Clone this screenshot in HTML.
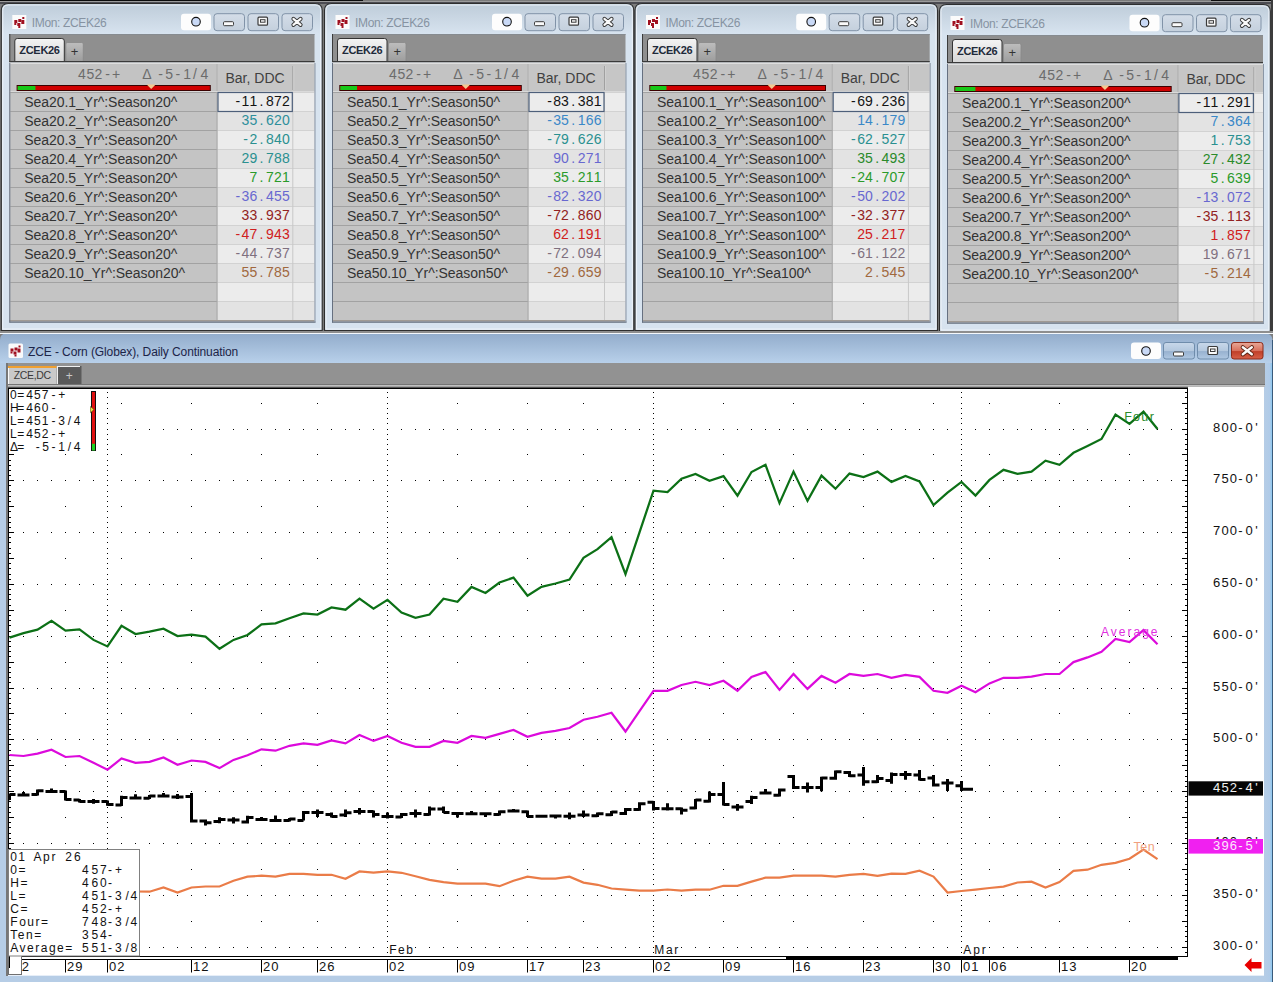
<!DOCTYPE html><html><head><meta charset="utf-8"><style>html,body{margin:0;padding:0;background:#5f5f5f;overflow:hidden;width:1273px;height:982px}svg{display:block}</style></head><body><svg width="1273" height="982" viewBox="0 0 1273 982" font-family='"Liberation Sans", sans-serif' shape-rendering="auto">
<defs>
<linearGradient id="glass" gradientUnits="userSpaceOnUse" x1="0" y1="5" x2="0" y2="34">
 <stop offset="0" stop-color="#bfcdda"/><stop offset="1" stop-color="#d7e3ef"/>
</linearGradient>
<linearGradient id="strip" x1="0" y1="0" x2="0" y2="1">
 <stop offset="0" stop-color="#7e7e7e"/><stop offset="1" stop-color="#999999"/>
</linearGradient>
<linearGradient id="acttab" x1="0" y1="0" x2="0" y2="1">
 <stop offset="0" stop-color="#f4f4f4"/><stop offset="1" stop-color="#d6d6d6"/>
</linearGradient>
<linearGradient id="plustab" x1="0" y1="0" x2="0" y2="1">
 <stop offset="0" stop-color="#bdbdbd"/><stop offset="1" stop-color="#9c9c9c"/>
</linearGradient>
<linearGradient id="btn" x1="0" y1="0" x2="0" y2="1">
 <stop offset="0" stop-color="#d4dde8"/><stop offset="1" stop-color="#c4d0dd"/>
</linearGradient>
<linearGradient id="ctitle" gradientUnits="userSpaceOnUse" x1="0" y1="334" x2="0" y2="363">
 <stop offset="0" stop-color="#93adcc"/><stop offset="1" stop-color="#b8d0ea"/>
</linearGradient>
<linearGradient id="cbtn" x1="0" y1="0" x2="0" y2="1">
 <stop offset="0" stop-color="#c8d8ea"/><stop offset="0.5" stop-color="#b4c8de"/><stop offset="0.55" stop-color="#98b2d0"/><stop offset="1" stop-color="#b0c8e2"/>
</linearGradient>
<linearGradient id="cclose" x1="0" y1="0" x2="0" y2="1">
 <stop offset="0" stop-color="#e8a898"/><stop offset="0.5" stop-color="#d8705c"/><stop offset="0.55" stop-color="#c0402a"/><stop offset="1" stop-color="#d86048"/>
</linearGradient>
<linearGradient id="frameR" x1="0" y1="0" x2="1" y2="0">
 <stop offset="0" stop-color="#b6cde6"/><stop offset="0.7" stop-color="#b0cbe8"/><stop offset="1" stop-color="#8ec8f0"/>
</linearGradient>
</defs>
<rect x="0" y="0" width="1273" height="982" fill="#7e7e7e"/>
<rect x="0" y="0" width="1273" height="1" fill="#0c0c0c"/>
<rect x="363" y="0" width="848" height="1" fill="#7a7a7a"/>
<rect x="0" y="1" width="1273" height="1" fill="#9a9a9a"/>
<rect x="0" y="2" width="1273" height="2" fill="#4c4c52"/>
<rect x="1271" y="0" width="2" height="333" fill="#3c3c3c"/>
<path d="M1.3 330.5 L1.3 10.5 Q1.3 3.5 8.3 3.5 L315.2 3.5 Q322.2 3.5 322.2 10.5 L322.2 330.5 Z" fill="url(#glass)" stroke="#2e2e2e" stroke-width="1.15"/>
<path d="M2.8 329.0 L2.8 10.5 Q2.8 5.0 8.3 5.0 L315.2 5.0 Q320.7 5.0 320.7 10.5 L320.7 329.0 Z" fill="none" stroke="#f4f8fc" stroke-width="1" opacity="0.8"/>
<rect x="12.3" y="15.0" width="14" height="14" fill="#fbfbfb"/>
<rect x="14.3" y="20.0" width="3" height="3" fill="#a01020"/>
<rect x="18.3" y="19.0" width="3" height="3" fill="#a01020"/>
<rect x="22.3" y="17.0" width="2" height="2" fill="#a01020"/>
<rect x="21.3" y="20.0" width="3" height="4" fill="#a01020"/>
<rect x="17.3" y="23.0" width="3" height="3" fill="#a01020"/>
<rect x="14.3" y="23.0" width="2" height="2" fill="#a01020"/>
<rect x="18.3" y="26.0" width="2" height="2" fill="#a01020"/>
<text x="31.8" y="26.7" font-size="12" fill="#8693a2" letter-spacing="-0.35" text-anchor="start">IMon: ZCEK26</text>
<rect x="181.0" y="13.7" width="30" height="16.5" rx="3" fill="#fdfdfd"/>
<circle cx="196.0" cy="21.7" r="4.3" fill="#c9d9f6" stroke="#111" stroke-width="1.1"/>
<rect x="214.0" y="13.7" width="30.5" height="17" rx="3" fill="url(#btn)" stroke="#8193a8" stroke-width="1"/>
<rect x="248.0" y="13.7" width="30.5" height="17" rx="3" fill="url(#btn)" stroke="#8193a8" stroke-width="1"/>
<rect x="282.0" y="13.7" width="30.5" height="17" rx="3" fill="url(#btn)" stroke="#8193a8" stroke-width="1"/>
<rect x="223.5" y="21.7" width="10" height="4" rx="1" fill="#fafafa" stroke="#3a3a3a" stroke-width="1"/>
<rect x="258.0" y="17.2" width="9.5" height="8" rx="1" fill="#fafafa" stroke="#3a3a3a" stroke-width="1.2"/>
<rect x="260.5" y="19.7" width="4.5" height="2.5" fill="none" stroke="#3a3a3a" stroke-width="1"/>
<path d="M293.4 18.9 L300.6 24.9 M300.6 18.9 L293.4 24.9" stroke="#3a3a3a" stroke-width="4" stroke-linecap="round"/>
<path d="M293.4 18.9 L300.6 24.9 M300.6 18.9 L293.4 24.9" stroke="#fafafa" stroke-width="2.1" stroke-linecap="round"/>
<rect x="9.3" y="34" width="305.2" height="28" fill="#8f8f8f"/>
<rect x="9.3" y="34" width="305.2" height="1" fill="#868b90"/>
<rect x="9.3" y="34" width="1" height="28" fill="#3c3c3c"/>
<path d="M14.8 62 L14.8 41 Q14.8 38.5 17.3 38.5 L61.8 38.5 Q64.3 38.5 64.3 41 L64.3 62" fill="url(#acttab)" stroke="#333" stroke-width="1"/>
<text x="19.3" y="54" font-size="11" fill="#1f2a3a" letter-spacing="-0.3" font-weight="bold" text-anchor="start">ZCEK26</text>
<path d="M65.8 62 L65.8 44 Q65.8 42.5 67.3 42.5 L81.8 42.5 Q83.3 42.5 83.3 44 L83.3 62" fill="url(#plustab)" stroke="#888" stroke-width="0.8"/>
<text x="74.6" y="56" font-size="13" fill="#333" text-anchor="middle">+</text>
<rect x="9.3" y="61" width="305.2" height="1.5" fill="#3a3a3a"/>
<rect x="9.3" y="63" width="305.2" height="259" fill="#c4c4c4"/>
<rect x="10.3" y="63" width="207.2" height="29" fill="#c3c3c3"/>
<rect x="217.5" y="63" width="97.0" height="29" fill="#c6c6c6"/>
<rect x="9.3" y="62.5" width="305.2" height="1.5" fill="#dedede"/>
<rect x="216.5" y="64" width="1" height="27" fill="#b0b0b0"/>
<rect x="292.3" y="66" width="1" height="24" fill="#a0a0a0"/>
<rect x="293.3" y="66" width="1" height="24" fill="#d0d0d0"/>
<text x="77.9 86.4 94.5 105.3 112.1" y="78.8" font-size="14" fill="#6b6b6b">452-+</text>
<text x="142.3 152.5 158.3 165.3 175.4 183.2 193.0 200.4" y="78.8" font-size="14" fill="#6b6b6b">Δ -5-1/4</text>
<text x="225.5" y="82.6" font-size="14" fill="#404040" text-anchor="start">Bar, DDC</text>
<rect x="16.6" y="85" width="194.20000000000002" height="6" fill="#3a0000"/>
<rect x="17.6" y="86" width="192.20000000000002" height="4" fill="#d00000"/>
<rect x="17.6" y="86" width="17.837400000000002" height="4" fill="#18c818"/>
<path d="M146.6806 84.5 L155.6806 84.5 L151.1806 89 Z" fill="#f4c890"/>
<rect x="9.3" y="91" width="305.2" height="1" fill="#dadada"/>
<rect x="10.3" y="92" width="207.2" height="19" fill="#c4c4c4"/>
<rect x="217.5" y="92" width="97.0" height="19" fill="#ececec"/>
<rect x="10.3" y="92" width="207.2" height="1" fill="#a2a2a2"/>
<rect x="217.5" y="92" width="97.0" height="1" fill="#d2d2d2"/>
<text x="24.3" y="106.7" font-size="14" fill="#333333" letter-spacing="-0.05" text-anchor="start">Sea20.1_Yr^:Season20^</text>
<text x="235.5 241.6 249.4 259.6 266.0 274.0 282.0" y="106" font-size="14" fill="#141414">-11.872</text>
<rect x="10.3" y="111" width="207.2" height="19" fill="#c4c4c4"/>
<rect x="217.5" y="111" width="97.0" height="19" fill="#e3e3e3"/>
<rect x="10.3" y="111" width="207.2" height="1" fill="#a2a2a2"/>
<rect x="217.5" y="111" width="97.0" height="1" fill="#d2d2d2"/>
<text x="24.3" y="125.7" font-size="14" fill="#333333" letter-spacing="-0.05" text-anchor="start">Sea20.2_Yr^:Season20^</text>
<text x="241.6 249.4 259.6 266.0 274.0 282.0" y="125" font-size="14" fill="#2e8f9c">35.620</text>
<rect x="10.3" y="130" width="207.2" height="19" fill="#c4c4c4"/>
<rect x="217.5" y="130" width="97.0" height="19" fill="#ececec"/>
<rect x="10.3" y="130" width="207.2" height="1" fill="#a2a2a2"/>
<rect x="217.5" y="130" width="97.0" height="1" fill="#d2d2d2"/>
<text x="24.3" y="144.7" font-size="14" fill="#333333" letter-spacing="-0.05" text-anchor="start">Sea20.3_Yr^:Season20^</text>
<text x="243.3 249.4 259.6 266.0 274.0 282.0" y="144" font-size="14" fill="#2a9090">-2.840</text>
<rect x="10.3" y="149" width="207.2" height="19" fill="#c4c4c4"/>
<rect x="217.5" y="149" width="97.0" height="19" fill="#e3e3e3"/>
<rect x="10.3" y="149" width="207.2" height="1" fill="#a2a2a2"/>
<rect x="217.5" y="149" width="97.0" height="1" fill="#d2d2d2"/>
<text x="24.3" y="163.7" font-size="14" fill="#333333" letter-spacing="-0.05" text-anchor="start">Sea20.4_Yr^:Season20^</text>
<text x="241.6 249.4 259.6 266.0 274.0 282.0" y="163" font-size="14" fill="#2a9090">29.788</text>
<rect x="10.3" y="168" width="207.2" height="19" fill="#c4c4c4"/>
<rect x="217.5" y="168" width="97.0" height="19" fill="#ececec"/>
<rect x="10.3" y="168" width="207.2" height="1" fill="#a2a2a2"/>
<rect x="217.5" y="168" width="97.0" height="1" fill="#d2d2d2"/>
<text x="24.3" y="182.7" font-size="14" fill="#333333" letter-spacing="-0.05" text-anchor="start">Sea20.5_Yr^:Season20^</text>
<text x="249.4 259.6 266.0 274.0 282.0" y="182" font-size="14" fill="#2a9a2a">7.721</text>
<rect x="10.3" y="187" width="207.2" height="19" fill="#c4c4c4"/>
<rect x="217.5" y="187" width="97.0" height="19" fill="#e3e3e3"/>
<rect x="10.3" y="187" width="207.2" height="1" fill="#a2a2a2"/>
<rect x="217.5" y="187" width="97.0" height="1" fill="#d2d2d2"/>
<text x="24.3" y="201.7" font-size="14" fill="#333333" letter-spacing="-0.05" text-anchor="start">Sea20.6_Yr^:Season20^</text>
<text x="235.5 241.6 249.4 259.6 266.0 274.0 282.0" y="201" font-size="14" fill="#6868d0">-36.455</text>
<rect x="10.3" y="206" width="207.2" height="19" fill="#c4c4c4"/>
<rect x="217.5" y="206" width="97.0" height="19" fill="#ececec"/>
<rect x="10.3" y="206" width="207.2" height="1" fill="#a2a2a2"/>
<rect x="217.5" y="206" width="97.0" height="1" fill="#d2d2d2"/>
<text x="24.3" y="220.7" font-size="14" fill="#333333" letter-spacing="-0.05" text-anchor="start">Sea20.7_Yr^:Season20^</text>
<text x="241.6 249.4 259.6 266.0 274.0 282.0" y="220" font-size="14" fill="#922222">33.937</text>
<rect x="10.3" y="225" width="207.2" height="19" fill="#c4c4c4"/>
<rect x="217.5" y="225" width="97.0" height="19" fill="#e3e3e3"/>
<rect x="10.3" y="225" width="207.2" height="1" fill="#a2a2a2"/>
<rect x="217.5" y="225" width="97.0" height="1" fill="#d2d2d2"/>
<text x="24.3" y="239.7" font-size="14" fill="#333333" letter-spacing="-0.05" text-anchor="start">Sea20.8_Yr^:Season20^</text>
<text x="235.5 241.6 249.4 259.6 266.0 274.0 282.0" y="239" font-size="14" fill="#d02020">-47.943</text>
<rect x="10.3" y="244" width="207.2" height="19" fill="#c4c4c4"/>
<rect x="217.5" y="244" width="97.0" height="19" fill="#ececec"/>
<rect x="10.3" y="244" width="207.2" height="1" fill="#a2a2a2"/>
<rect x="217.5" y="244" width="97.0" height="1" fill="#d2d2d2"/>
<text x="24.3" y="258.7" font-size="14" fill="#333333" letter-spacing="-0.05" text-anchor="start">Sea20.9_Yr^:Season20^</text>
<text x="235.5 241.6 249.4 259.6 266.0 274.0 282.0" y="258" font-size="14" fill="#7f707f">-44.737</text>
<rect x="10.3" y="263" width="207.2" height="19" fill="#c4c4c4"/>
<rect x="217.5" y="263" width="97.0" height="19" fill="#e3e3e3"/>
<rect x="10.3" y="263" width="207.2" height="1" fill="#a2a2a2"/>
<rect x="217.5" y="263" width="97.0" height="1" fill="#d2d2d2"/>
<text x="24.3" y="277.7" font-size="14" fill="#333333" letter-spacing="-0.05" text-anchor="start">Sea20.10_Yr^:Season20^</text>
<text x="241.6 249.4 259.6 266.0 274.0 282.0" y="277" font-size="14" fill="#a0683e">55.785</text>
<rect x="10.3" y="282" width="207.2" height="19" fill="#c4c4c4"/>
<rect x="217.5" y="282" width="97.0" height="19" fill="#ececec"/>
<rect x="10.3" y="282" width="207.2" height="1" fill="#a2a2a2"/>
<rect x="217.5" y="282" width="97.0" height="1" fill="#d2d2d2"/>
<rect x="10.3" y="301" width="207.2" height="19" fill="#c4c4c4"/>
<rect x="217.5" y="301" width="97.0" height="19" fill="#e3e3e3"/>
<rect x="10.3" y="301" width="207.2" height="1" fill="#a2a2a2"/>
<rect x="217.5" y="301" width="97.0" height="1" fill="#d2d2d2"/>
<rect x="292.3" y="92" width="1" height="228" fill="#c8c8c8"/>
<rect x="216.5" y="92" width="1" height="228" fill="#a8a8a8"/>
<rect x="218.0" y="92.5" width="74.30000000000001" height="19" fill="none" stroke="#4d5f7a" stroke-width="1.2"/>
<rect x="9.3" y="320" width="305.2" height="1" fill="#a09a94"/>
<rect x="9.3" y="321.5" width="306.2" height="1.2" fill="#5c6676"/>
<rect x="9.3" y="63" width="1" height="259.5" fill="#667080"/>
<rect x="314.5" y="63" width="1" height="259.5" fill="#8a96a6"/>
<path d="M324.5 330.5 L324.5 10.5 Q324.5 3.5 331.5 3.5 L626.8 3.5 Q633.8 3.5 633.8 10.5 L633.8 330.5 Z" fill="url(#glass)" stroke="#2e2e2e" stroke-width="1.15"/>
<path d="M326.0 329.0 L326.0 10.5 Q326.0 5.0 331.5 5.0 L626.8 5.0 Q632.3 5.0 632.3 10.5 L632.3 329.0 Z" fill="none" stroke="#f4f8fc" stroke-width="1" opacity="0.8"/>
<rect x="335.5" y="15.0" width="14" height="14" fill="#fbfbfb"/>
<rect x="337.5" y="20.0" width="3" height="3" fill="#a01020"/>
<rect x="341.5" y="19.0" width="3" height="3" fill="#a01020"/>
<rect x="345.5" y="17.0" width="2" height="2" fill="#a01020"/>
<rect x="344.5" y="20.0" width="3" height="4" fill="#a01020"/>
<rect x="340.5" y="23.0" width="3" height="3" fill="#a01020"/>
<rect x="337.5" y="23.0" width="2" height="2" fill="#a01020"/>
<rect x="341.5" y="26.0" width="2" height="2" fill="#a01020"/>
<text x="355.0" y="26.7" font-size="12" fill="#8693a2" letter-spacing="-0.35" text-anchor="start">IMon: ZCEK26</text>
<rect x="492.0" y="13.7" width="30" height="16.5" rx="3" fill="#fdfdfd"/>
<circle cx="507.0" cy="21.7" r="4.3" fill="#c9d9f6" stroke="#111" stroke-width="1.1"/>
<rect x="525.0" y="13.7" width="30.5" height="17" rx="3" fill="url(#btn)" stroke="#8193a8" stroke-width="1"/>
<rect x="559.0" y="13.7" width="30.5" height="17" rx="3" fill="url(#btn)" stroke="#8193a8" stroke-width="1"/>
<rect x="593.0" y="13.7" width="30.5" height="17" rx="3" fill="url(#btn)" stroke="#8193a8" stroke-width="1"/>
<rect x="534.5" y="21.7" width="10" height="4" rx="1" fill="#fafafa" stroke="#3a3a3a" stroke-width="1"/>
<rect x="569.0" y="17.2" width="9.5" height="8" rx="1" fill="#fafafa" stroke="#3a3a3a" stroke-width="1.2"/>
<rect x="571.5" y="19.7" width="4.5" height="2.5" fill="none" stroke="#3a3a3a" stroke-width="1"/>
<path d="M604.4 18.9 L611.6 24.9 M611.6 18.9 L604.4 24.9" stroke="#3a3a3a" stroke-width="4" stroke-linecap="round"/>
<path d="M604.4 18.9 L611.6 24.9 M611.6 18.9 L604.4 24.9" stroke="#fafafa" stroke-width="2.1" stroke-linecap="round"/>
<rect x="332" y="34" width="293.5" height="28" fill="#8f8f8f"/>
<rect x="332" y="34" width="293.5" height="1" fill="#868b90"/>
<rect x="332" y="34" width="1" height="28" fill="#3c3c3c"/>
<path d="M337.5 62 L337.5 41 Q337.5 38.5 340 38.5 L384.5 38.5 Q387 38.5 387 41 L387 62" fill="url(#acttab)" stroke="#333" stroke-width="1"/>
<text x="342" y="54" font-size="11" fill="#1f2a3a" letter-spacing="-0.3" font-weight="bold" text-anchor="start">ZCEK26</text>
<path d="M388.5 62 L388.5 44 Q388.5 42.5 390 42.5 L404.5 42.5 Q406 42.5 406 44 L406 62" fill="url(#plustab)" stroke="#888" stroke-width="0.8"/>
<text x="397.3" y="56" font-size="13" fill="#333" text-anchor="middle">+</text>
<rect x="332" y="61" width="293.5" height="1.5" fill="#3a3a3a"/>
<rect x="332" y="63" width="293.5" height="259" fill="#c4c4c4"/>
<rect x="333" y="63" width="195.5" height="29" fill="#c3c3c3"/>
<rect x="528.5" y="63" width="97.0" height="29" fill="#c6c6c6"/>
<rect x="332" y="62.5" width="293.5" height="1.5" fill="#dedede"/>
<rect x="527.5" y="64" width="1" height="27" fill="#b0b0b0"/>
<rect x="604" y="66" width="1" height="24" fill="#a0a0a0"/>
<rect x="605" y="66" width="1" height="24" fill="#d0d0d0"/>
<text x="388.9 397.4 405.5 416.3 423.1" y="78.8" font-size="14" fill="#6b6b6b">452-+</text>
<text x="453.3 463.5 469.3 476.3 486.4 494.2 504.0 511.4" y="78.8" font-size="14" fill="#6b6b6b">Δ -5-1/4</text>
<text x="536.5" y="82.6" font-size="14" fill="#404040" text-anchor="start">Bar, DDC</text>
<rect x="339.3" y="85" width="182.49999999999994" height="6" fill="#3a0000"/>
<rect x="340.3" y="86" width="180.49999999999994" height="4" fill="#d00000"/>
<rect x="340.3" y="86" width="16.702499999999993" height="4" fill="#18c818"/>
<path d="M461.2725 84.5 L470.2725 84.5 L465.7725 89 Z" fill="#f4c890"/>
<rect x="332" y="91" width="293.5" height="1" fill="#dadada"/>
<rect x="333" y="92" width="195.5" height="19" fill="#c4c4c4"/>
<rect x="528.5" y="92" width="97.0" height="19" fill="#ececec"/>
<rect x="333" y="92" width="195.5" height="1" fill="#a2a2a2"/>
<rect x="528.5" y="92" width="97.0" height="1" fill="#d2d2d2"/>
<text x="347" y="106.7" font-size="14" fill="#333333" letter-spacing="-0.05" text-anchor="start">Sea50.1_Yr^:Season50^</text>
<text x="547.2 553.3 561.1 571.3 577.7 585.7 593.7" y="106" font-size="14" fill="#141414">-83.381</text>
<rect x="333" y="111" width="195.5" height="19" fill="#c4c4c4"/>
<rect x="528.5" y="111" width="97.0" height="19" fill="#e3e3e3"/>
<rect x="333" y="111" width="195.5" height="1" fill="#a2a2a2"/>
<rect x="528.5" y="111" width="97.0" height="1" fill="#d2d2d2"/>
<text x="347" y="125.7" font-size="14" fill="#333333" letter-spacing="-0.05" text-anchor="start">Sea50.2_Yr^:Season50^</text>
<text x="547.2 553.3 561.1 571.3 577.7 585.7 593.7" y="125" font-size="14" fill="#3a88c8">-35.166</text>
<rect x="333" y="130" width="195.5" height="19" fill="#c4c4c4"/>
<rect x="528.5" y="130" width="97.0" height="19" fill="#ececec"/>
<rect x="333" y="130" width="195.5" height="1" fill="#a2a2a2"/>
<rect x="528.5" y="130" width="97.0" height="1" fill="#d2d2d2"/>
<text x="347" y="144.7" font-size="14" fill="#333333" letter-spacing="-0.05" text-anchor="start">Sea50.3_Yr^:Season50^</text>
<text x="547.2 553.3 561.1 571.3 577.7 585.7 593.7" y="144" font-size="14" fill="#2a9090">-79.626</text>
<rect x="333" y="149" width="195.5" height="19" fill="#c4c4c4"/>
<rect x="528.5" y="149" width="97.0" height="19" fill="#e3e3e3"/>
<rect x="333" y="149" width="195.5" height="1" fill="#a2a2a2"/>
<rect x="528.5" y="149" width="97.0" height="1" fill="#d2d2d2"/>
<text x="347" y="163.7" font-size="14" fill="#333333" letter-spacing="-0.05" text-anchor="start">Sea50.4_Yr^:Season50^</text>
<text x="553.3 561.1 571.3 577.7 585.7 593.7" y="163" font-size="14" fill="#6868d0">90.271</text>
<rect x="333" y="168" width="195.5" height="19" fill="#c4c4c4"/>
<rect x="528.5" y="168" width="97.0" height="19" fill="#ececec"/>
<rect x="333" y="168" width="195.5" height="1" fill="#a2a2a2"/>
<rect x="528.5" y="168" width="97.0" height="1" fill="#d2d2d2"/>
<text x="347" y="182.7" font-size="14" fill="#333333" letter-spacing="-0.05" text-anchor="start">Sea50.5_Yr^:Season50^</text>
<text x="553.3 561.1 571.3 577.7 585.7 593.7" y="182" font-size="14" fill="#2a9a2a">35.211</text>
<rect x="333" y="187" width="195.5" height="19" fill="#c4c4c4"/>
<rect x="528.5" y="187" width="97.0" height="19" fill="#e3e3e3"/>
<rect x="333" y="187" width="195.5" height="1" fill="#a2a2a2"/>
<rect x="528.5" y="187" width="97.0" height="1" fill="#d2d2d2"/>
<text x="347" y="201.7" font-size="14" fill="#333333" letter-spacing="-0.05" text-anchor="start">Sea50.6_Yr^:Season50^</text>
<text x="547.2 553.3 561.1 571.3 577.7 585.7 593.7" y="201" font-size="14" fill="#6868d0">-82.320</text>
<rect x="333" y="206" width="195.5" height="19" fill="#c4c4c4"/>
<rect x="528.5" y="206" width="97.0" height="19" fill="#ececec"/>
<rect x="333" y="206" width="195.5" height="1" fill="#a2a2a2"/>
<rect x="528.5" y="206" width="97.0" height="1" fill="#d2d2d2"/>
<text x="347" y="220.7" font-size="14" fill="#333333" letter-spacing="-0.05" text-anchor="start">Sea50.7_Yr^:Season50^</text>
<text x="547.2 553.3 561.1 571.3 577.7 585.7 593.7" y="220" font-size="14" fill="#922222">-72.860</text>
<rect x="333" y="225" width="195.5" height="19" fill="#c4c4c4"/>
<rect x="528.5" y="225" width="97.0" height="19" fill="#e3e3e3"/>
<rect x="333" y="225" width="195.5" height="1" fill="#a2a2a2"/>
<rect x="528.5" y="225" width="97.0" height="1" fill="#d2d2d2"/>
<text x="347" y="239.7" font-size="14" fill="#333333" letter-spacing="-0.05" text-anchor="start">Sea50.8_Yr^:Season50^</text>
<text x="553.3 561.1 571.3 577.7 585.7 593.7" y="239" font-size="14" fill="#d02020">62.191</text>
<rect x="333" y="244" width="195.5" height="19" fill="#c4c4c4"/>
<rect x="528.5" y="244" width="97.0" height="19" fill="#ececec"/>
<rect x="333" y="244" width="195.5" height="1" fill="#a2a2a2"/>
<rect x="528.5" y="244" width="97.0" height="1" fill="#d2d2d2"/>
<text x="347" y="258.7" font-size="14" fill="#333333" letter-spacing="-0.05" text-anchor="start">Sea50.9_Yr^:Season50^</text>
<text x="547.2 553.3 561.1 571.3 577.7 585.7 593.7" y="258" font-size="14" fill="#7f707f">-72.094</text>
<rect x="333" y="263" width="195.5" height="19" fill="#c4c4c4"/>
<rect x="528.5" y="263" width="97.0" height="19" fill="#e3e3e3"/>
<rect x="333" y="263" width="195.5" height="1" fill="#a2a2a2"/>
<rect x="528.5" y="263" width="97.0" height="1" fill="#d2d2d2"/>
<text x="347" y="277.7" font-size="14" fill="#333333" letter-spacing="-0.05" text-anchor="start">Sea50.10_Yr^:Season50^</text>
<text x="547.2 553.3 561.1 571.3 577.7 585.7 593.7" y="277" font-size="14" fill="#a0683e">-29.659</text>
<rect x="333" y="282" width="195.5" height="19" fill="#c4c4c4"/>
<rect x="528.5" y="282" width="97.0" height="19" fill="#ececec"/>
<rect x="333" y="282" width="195.5" height="1" fill="#a2a2a2"/>
<rect x="528.5" y="282" width="97.0" height="1" fill="#d2d2d2"/>
<rect x="333" y="301" width="195.5" height="19" fill="#c4c4c4"/>
<rect x="528.5" y="301" width="97.0" height="19" fill="#e3e3e3"/>
<rect x="333" y="301" width="195.5" height="1" fill="#a2a2a2"/>
<rect x="528.5" y="301" width="97.0" height="1" fill="#d2d2d2"/>
<rect x="604" y="92" width="1" height="228" fill="#c8c8c8"/>
<rect x="527.5" y="92" width="1" height="228" fill="#a8a8a8"/>
<rect x="529.0" y="92.5" width="75.0" height="19" fill="none" stroke="#4d5f7a" stroke-width="1.2"/>
<rect x="332" y="320" width="293.5" height="1" fill="#a09a94"/>
<rect x="332" y="321.5" width="294.5" height="1.2" fill="#5c6676"/>
<rect x="332" y="63" width="1" height="259.5" fill="#667080"/>
<rect x="625.5" y="63" width="1" height="259.5" fill="#8a96a6"/>
<path d="M635 330.5 L635 10.5 Q635 3.5 642 3.5 L930.5 3.5 Q937.5 3.5 937.5 10.5 L937.5 330.5 Z" fill="url(#glass)" stroke="#2e2e2e" stroke-width="1.15"/>
<path d="M636.5 329.0 L636.5 10.5 Q636.5 5.0 642 5.0 L930.5 5.0 Q936.0 5.0 936.0 10.5 L936.0 329.0 Z" fill="none" stroke="#f4f8fc" stroke-width="1" opacity="0.8"/>
<rect x="646" y="15.0" width="14" height="14" fill="#fbfbfb"/>
<rect x="648" y="20.0" width="3" height="3" fill="#a01020"/>
<rect x="652" y="19.0" width="3" height="3" fill="#a01020"/>
<rect x="656" y="17.0" width="2" height="2" fill="#a01020"/>
<rect x="655" y="20.0" width="3" height="4" fill="#a01020"/>
<rect x="651" y="23.0" width="3" height="3" fill="#a01020"/>
<rect x="648" y="23.0" width="2" height="2" fill="#a01020"/>
<rect x="652" y="26.0" width="2" height="2" fill="#a01020"/>
<text x="665.5" y="26.7" font-size="12" fill="#8693a2" letter-spacing="-0.35" text-anchor="start">IMon: ZCEK26</text>
<rect x="796.2" y="13.7" width="30" height="16.5" rx="3" fill="#fdfdfd"/>
<circle cx="811.2" cy="21.7" r="4.3" fill="#c9d9f6" stroke="#111" stroke-width="1.1"/>
<rect x="829.2" y="13.7" width="30.5" height="17" rx="3" fill="url(#btn)" stroke="#8193a8" stroke-width="1"/>
<rect x="863.2" y="13.7" width="30.5" height="17" rx="3" fill="url(#btn)" stroke="#8193a8" stroke-width="1"/>
<rect x="897.2" y="13.7" width="30.5" height="17" rx="3" fill="url(#btn)" stroke="#8193a8" stroke-width="1"/>
<rect x="838.7" y="21.7" width="10" height="4" rx="1" fill="#fafafa" stroke="#3a3a3a" stroke-width="1"/>
<rect x="873.2" y="17.2" width="9.5" height="8" rx="1" fill="#fafafa" stroke="#3a3a3a" stroke-width="1.2"/>
<rect x="875.7" y="19.7" width="4.5" height="2.5" fill="none" stroke="#3a3a3a" stroke-width="1"/>
<path d="M908.6 18.9 L915.8000000000001 24.9 M915.8000000000001 18.9 L908.6 24.9" stroke="#3a3a3a" stroke-width="4" stroke-linecap="round"/>
<path d="M908.6 18.9 L915.8000000000001 24.9 M915.8000000000001 18.9 L908.6 24.9" stroke="#fafafa" stroke-width="2.1" stroke-linecap="round"/>
<rect x="642" y="34" width="287.70000000000005" height="28" fill="#8f8f8f"/>
<rect x="642" y="34" width="287.70000000000005" height="1" fill="#868b90"/>
<rect x="642" y="34" width="1" height="28" fill="#3c3c3c"/>
<path d="M647.5 62 L647.5 41 Q647.5 38.5 650 38.5 L694.5 38.5 Q697 38.5 697 41 L697 62" fill="url(#acttab)" stroke="#333" stroke-width="1"/>
<text x="652" y="54" font-size="11" fill="#1f2a3a" letter-spacing="-0.3" font-weight="bold" text-anchor="start">ZCEK26</text>
<path d="M698.5 62 L698.5 44 Q698.5 42.5 700 42.5 L714.5 42.5 Q716 42.5 716 44 L716 62" fill="url(#plustab)" stroke="#888" stroke-width="0.8"/>
<text x="707.3" y="56" font-size="13" fill="#333" text-anchor="middle">+</text>
<rect x="642" y="61" width="287.70000000000005" height="1.5" fill="#3a3a3a"/>
<rect x="642" y="63" width="287.70000000000005" height="259" fill="#c4c4c4"/>
<rect x="643" y="63" width="189.70000000000005" height="29" fill="#c3c3c3"/>
<rect x="832.7" y="63" width="97.0" height="29" fill="#c6c6c6"/>
<rect x="642" y="62.5" width="287.70000000000005" height="1.5" fill="#dedede"/>
<rect x="831.7" y="64" width="1" height="27" fill="#b0b0b0"/>
<rect x="907.9" y="66" width="1" height="24" fill="#a0a0a0"/>
<rect x="908.9" y="66" width="1" height="24" fill="#d0d0d0"/>
<text x="693.1 701.6 709.7 720.5 727.3" y="78.8" font-size="14" fill="#6b6b6b">452-+</text>
<text x="757.5 767.7 773.5 780.5 790.6 798.4 808.2 815.6" y="78.8" font-size="14" fill="#6b6b6b">Δ -5-1/4</text>
<text x="840.7" y="82.6" font-size="14" fill="#404040" text-anchor="start">Bar, DDC</text>
<rect x="649.3" y="85" width="176.70000000000005" height="6" fill="#3a0000"/>
<rect x="650.3" y="86" width="174.70000000000005" height="4" fill="#d00000"/>
<rect x="650.3" y="86" width="16.139900000000004" height="4" fill="#18c818"/>
<path d="M767.2531 84.5 L776.2531 84.5 L771.7531 89 Z" fill="#f4c890"/>
<rect x="642" y="91" width="287.70000000000005" height="1" fill="#dadada"/>
<rect x="643" y="92" width="189.70000000000005" height="19" fill="#c4c4c4"/>
<rect x="832.7" y="92" width="97.0" height="19" fill="#ececec"/>
<rect x="643" y="92" width="189.70000000000005" height="1" fill="#a2a2a2"/>
<rect x="832.7" y="92" width="97.0" height="1" fill="#d2d2d2"/>
<text x="657" y="106.7" font-size="14" fill="#333333" letter-spacing="-0.05" text-anchor="start">Sea100.1_Yr^:Season100^</text>
<text x="851.1 857.2 865.0 875.2 881.6 889.6 897.6" y="106" font-size="14" fill="#141414">-69.236</text>
<rect x="643" y="111" width="189.70000000000005" height="19" fill="#c4c4c4"/>
<rect x="832.7" y="111" width="97.0" height="19" fill="#e3e3e3"/>
<rect x="643" y="111" width="189.70000000000005" height="1" fill="#a2a2a2"/>
<rect x="832.7" y="111" width="97.0" height="1" fill="#d2d2d2"/>
<text x="657" y="125.7" font-size="14" fill="#333333" letter-spacing="-0.05" text-anchor="start">Sea100.2_Yr^:Season100^</text>
<text x="857.2 865.0 875.2 881.6 889.6 897.6" y="125" font-size="14" fill="#3a88c8">14.179</text>
<rect x="643" y="130" width="189.70000000000005" height="19" fill="#c4c4c4"/>
<rect x="832.7" y="130" width="97.0" height="19" fill="#ececec"/>
<rect x="643" y="130" width="189.70000000000005" height="1" fill="#a2a2a2"/>
<rect x="832.7" y="130" width="97.0" height="1" fill="#d2d2d2"/>
<text x="657" y="144.7" font-size="14" fill="#333333" letter-spacing="-0.05" text-anchor="start">Sea100.3_Yr^:Season100^</text>
<text x="851.1 857.2 865.0 875.2 881.6 889.6 897.6" y="144" font-size="14" fill="#2a9090">-62.527</text>
<rect x="643" y="149" width="189.70000000000005" height="19" fill="#c4c4c4"/>
<rect x="832.7" y="149" width="97.0" height="19" fill="#e3e3e3"/>
<rect x="643" y="149" width="189.70000000000005" height="1" fill="#a2a2a2"/>
<rect x="832.7" y="149" width="97.0" height="1" fill="#d2d2d2"/>
<text x="657" y="163.7" font-size="14" fill="#333333" letter-spacing="-0.05" text-anchor="start">Sea100.4_Yr^:Season100^</text>
<text x="857.2 865.0 875.2 881.6 889.6 897.6" y="163" font-size="14" fill="#2a8a2a">35.493</text>
<rect x="643" y="168" width="189.70000000000005" height="19" fill="#c4c4c4"/>
<rect x="832.7" y="168" width="97.0" height="19" fill="#ececec"/>
<rect x="643" y="168" width="189.70000000000005" height="1" fill="#a2a2a2"/>
<rect x="832.7" y="168" width="97.0" height="1" fill="#d2d2d2"/>
<text x="657" y="182.7" font-size="14" fill="#333333" letter-spacing="-0.05" text-anchor="start">Sea100.5_Yr^:Season100^</text>
<text x="851.1 857.2 865.0 875.2 881.6 889.6 897.6" y="182" font-size="14" fill="#2a9a2a">-24.707</text>
<rect x="643" y="187" width="189.70000000000005" height="19" fill="#c4c4c4"/>
<rect x="832.7" y="187" width="97.0" height="19" fill="#e3e3e3"/>
<rect x="643" y="187" width="189.70000000000005" height="1" fill="#a2a2a2"/>
<rect x="832.7" y="187" width="97.0" height="1" fill="#d2d2d2"/>
<text x="657" y="201.7" font-size="14" fill="#333333" letter-spacing="-0.05" text-anchor="start">Sea100.6_Yr^:Season100^</text>
<text x="851.1 857.2 865.0 875.2 881.6 889.6 897.6" y="201" font-size="14" fill="#6868d0">-50.202</text>
<rect x="643" y="206" width="189.70000000000005" height="19" fill="#c4c4c4"/>
<rect x="832.7" y="206" width="97.0" height="19" fill="#ececec"/>
<rect x="643" y="206" width="189.70000000000005" height="1" fill="#a2a2a2"/>
<rect x="832.7" y="206" width="97.0" height="1" fill="#d2d2d2"/>
<text x="657" y="220.7" font-size="14" fill="#333333" letter-spacing="-0.05" text-anchor="start">Sea100.7_Yr^:Season100^</text>
<text x="851.1 857.2 865.0 875.2 881.6 889.6 897.6" y="220" font-size="14" fill="#922222">-32.377</text>
<rect x="643" y="225" width="189.70000000000005" height="19" fill="#c4c4c4"/>
<rect x="832.7" y="225" width="97.0" height="19" fill="#e3e3e3"/>
<rect x="643" y="225" width="189.70000000000005" height="1" fill="#a2a2a2"/>
<rect x="832.7" y="225" width="97.0" height="1" fill="#d2d2d2"/>
<text x="657" y="239.7" font-size="14" fill="#333333" letter-spacing="-0.05" text-anchor="start">Sea100.8_Yr^:Season100^</text>
<text x="857.2 865.0 875.2 881.6 889.6 897.6" y="239" font-size="14" fill="#d02020">25.217</text>
<rect x="643" y="244" width="189.70000000000005" height="19" fill="#c4c4c4"/>
<rect x="832.7" y="244" width="97.0" height="19" fill="#ececec"/>
<rect x="643" y="244" width="189.70000000000005" height="1" fill="#a2a2a2"/>
<rect x="832.7" y="244" width="97.0" height="1" fill="#d2d2d2"/>
<text x="657" y="258.7" font-size="14" fill="#333333" letter-spacing="-0.05" text-anchor="start">Sea100.9_Yr^:Season100^</text>
<text x="851.1 857.2 865.0 875.2 881.6 889.6 897.6" y="258" font-size="14" fill="#7f707f">-61.122</text>
<rect x="643" y="263" width="189.70000000000005" height="19" fill="#c4c4c4"/>
<rect x="832.7" y="263" width="97.0" height="19" fill="#e3e3e3"/>
<rect x="643" y="263" width="189.70000000000005" height="1" fill="#a2a2a2"/>
<rect x="832.7" y="263" width="97.0" height="1" fill="#d2d2d2"/>
<text x="657" y="277.7" font-size="14" fill="#333333" letter-spacing="-0.05" text-anchor="start">Sea100.10_Yr^:Sea100^</text>
<text x="865.0 875.2 881.6 889.6 897.6" y="277" font-size="14" fill="#a0683e">2.545</text>
<rect x="643" y="282" width="189.70000000000005" height="19" fill="#c4c4c4"/>
<rect x="832.7" y="282" width="97.0" height="19" fill="#ececec"/>
<rect x="643" y="282" width="189.70000000000005" height="1" fill="#a2a2a2"/>
<rect x="832.7" y="282" width="97.0" height="1" fill="#d2d2d2"/>
<rect x="643" y="301" width="189.70000000000005" height="19" fill="#c4c4c4"/>
<rect x="832.7" y="301" width="97.0" height="19" fill="#e3e3e3"/>
<rect x="643" y="301" width="189.70000000000005" height="1" fill="#a2a2a2"/>
<rect x="832.7" y="301" width="97.0" height="1" fill="#d2d2d2"/>
<rect x="907.9" y="92" width="1" height="228" fill="#c8c8c8"/>
<rect x="831.7" y="92" width="1" height="228" fill="#a8a8a8"/>
<rect x="833.2" y="92.5" width="74.69999999999993" height="19" fill="none" stroke="#4d5f7a" stroke-width="1.2"/>
<rect x="642" y="320" width="287.70000000000005" height="1" fill="#a09a94"/>
<rect x="642" y="321.5" width="288.70000000000005" height="1.2" fill="#5c6676"/>
<rect x="642" y="63" width="1" height="259.5" fill="#667080"/>
<rect x="929.7" y="63" width="1" height="259.5" fill="#8a96a6"/>
<path d="M939.5 331.5 L939.5 11.5 Q939.5 4.5 946.5 4.5 L1263.3 4.5 Q1270.3 4.5 1270.3 11.5 L1270.3 331.5 Z" fill="url(#glass)" stroke="#2e2e2e" stroke-width="1.15"/>
<path d="M941.0 330.0 L941.0 11.5 Q941.0 6.0 946.5 6.0 L1263.3 6.0 Q1268.8 6.0 1268.8 11.5 L1268.8 330.0 Z" fill="none" stroke="#f4f8fc" stroke-width="1" opacity="0.8"/>
<rect x="950.5" y="16.0" width="14" height="14" fill="#fbfbfb"/>
<rect x="952.5" y="21.0" width="3" height="3" fill="#a01020"/>
<rect x="956.5" y="20.0" width="3" height="3" fill="#a01020"/>
<rect x="960.5" y="18.0" width="2" height="2" fill="#a01020"/>
<rect x="959.5" y="21.0" width="3" height="4" fill="#a01020"/>
<rect x="955.5" y="24.0" width="3" height="3" fill="#a01020"/>
<rect x="952.5" y="24.0" width="2" height="2" fill="#a01020"/>
<rect x="956.5" y="27.0" width="2" height="2" fill="#a01020"/>
<text x="970.0" y="27.7" font-size="12" fill="#8693a2" letter-spacing="-0.35" text-anchor="start">IMon: ZCEK26</text>
<rect x="1129.5" y="14.7" width="30" height="16.5" rx="3" fill="#fdfdfd"/>
<circle cx="1144.5" cy="22.7" r="4.3" fill="#c9d9f6" stroke="#111" stroke-width="1.1"/>
<rect x="1162.5" y="14.7" width="30.5" height="17" rx="3" fill="url(#btn)" stroke="#8193a8" stroke-width="1"/>
<rect x="1196.5" y="14.7" width="30.5" height="17" rx="3" fill="url(#btn)" stroke="#8193a8" stroke-width="1"/>
<rect x="1230.5" y="14.7" width="30.5" height="17" rx="3" fill="url(#btn)" stroke="#8193a8" stroke-width="1"/>
<rect x="1172" y="22.7" width="10" height="4" rx="1" fill="#fafafa" stroke="#3a3a3a" stroke-width="1"/>
<rect x="1206.5" y="18.2" width="9.5" height="8" rx="1" fill="#fafafa" stroke="#3a3a3a" stroke-width="1.2"/>
<rect x="1209" y="20.7" width="4.5" height="2.5" fill="none" stroke="#3a3a3a" stroke-width="1"/>
<path d="M1241.9 19.9 L1249.1 25.9 M1249.1 19.9 L1241.9 25.9" stroke="#3a3a3a" stroke-width="4" stroke-linecap="round"/>
<path d="M1241.9 19.9 L1249.1 25.9 M1249.1 19.9 L1241.9 25.9" stroke="#fafafa" stroke-width="2.1" stroke-linecap="round"/>
<rect x="947" y="35" width="316" height="28" fill="#8f8f8f"/>
<rect x="947" y="35" width="316" height="1" fill="#868b90"/>
<rect x="947" y="35" width="1" height="28" fill="#3c3c3c"/>
<path d="M952.5 63 L952.5 42 Q952.5 39.5 955 39.5 L999.5 39.5 Q1002 39.5 1002 42 L1002 63" fill="url(#acttab)" stroke="#333" stroke-width="1"/>
<text x="957" y="55" font-size="11" fill="#1f2a3a" letter-spacing="-0.3" font-weight="bold" text-anchor="start">ZCEK26</text>
<path d="M1003.5 63 L1003.5 45 Q1003.5 43.5 1005 43.5 L1019.5 43.5 Q1021 43.5 1021 45 L1021 63" fill="url(#plustab)" stroke="#888" stroke-width="0.8"/>
<text x="1012.3" y="57" font-size="13" fill="#333" text-anchor="middle">+</text>
<rect x="947" y="62" width="316" height="1.5" fill="#3a3a3a"/>
<rect x="947" y="64" width="316" height="259" fill="#c4c4c4"/>
<rect x="948" y="64" width="230.4000000000001" height="29" fill="#c3c3c3"/>
<rect x="1178.4" y="64" width="84.59999999999991" height="29" fill="#c6c6c6"/>
<rect x="947" y="63.5" width="316" height="1.5" fill="#dedede"/>
<rect x="1177.4" y="65" width="1" height="27" fill="#b0b0b0"/>
<rect x="1253.4" y="67" width="1" height="24" fill="#a0a0a0"/>
<rect x="1254.4" y="67" width="1" height="24" fill="#d0d0d0"/>
<text x="1038.8 1047.3 1055.4 1066.2 1073.0" y="79.8" font-size="14" fill="#6b6b6b">452-+</text>
<text x="1103.2 1113.4 1119.2 1126.2 1136.3 1144.1 1153.9 1161.3" y="79.8" font-size="14" fill="#6b6b6b">Δ -5-1/4</text>
<text x="1186.4" y="83.6" font-size="14" fill="#404040" text-anchor="start">Bar, DDC</text>
<rect x="954.3" y="86" width="217.4000000000001" height="6" fill="#3a0000"/>
<rect x="955.3" y="87" width="215.4000000000001" height="4" fill="#d00000"/>
<rect x="955.3" y="87" width="20.08780000000001" height="4" fill="#18c818"/>
<path d="M1100.4582 85.5 L1109.4582 85.5 L1104.9582 90 Z" fill="#f4c890"/>
<rect x="947" y="92" width="316" height="1" fill="#dadada"/>
<rect x="948" y="93" width="230.4000000000001" height="19" fill="#c4c4c4"/>
<rect x="1178.4" y="93" width="84.59999999999991" height="19" fill="#ececec"/>
<rect x="948" y="93" width="230.4000000000001" height="1" fill="#a2a2a2"/>
<rect x="1178.4" y="93" width="84.59999999999991" height="1" fill="#d2d2d2"/>
<text x="962" y="107.7" font-size="14" fill="#333333" letter-spacing="-0.05" text-anchor="start">Sea200.1_Yr^:Season200^</text>
<text x="1196.6 1202.7 1210.5 1220.7 1227.1 1235.1 1243.1" y="107" font-size="14" fill="#141414">-11.291</text>
<rect x="948" y="112" width="230.4000000000001" height="19" fill="#c4c4c4"/>
<rect x="1178.4" y="112" width="84.59999999999991" height="19" fill="#e3e3e3"/>
<rect x="948" y="112" width="230.4000000000001" height="1" fill="#a2a2a2"/>
<rect x="1178.4" y="112" width="84.59999999999991" height="1" fill="#d2d2d2"/>
<text x="962" y="126.7" font-size="14" fill="#333333" letter-spacing="-0.05" text-anchor="start">Sea200.2_Yr^:Season200^</text>
<text x="1210.5 1220.7 1227.1 1235.1 1243.1" y="126" font-size="14" fill="#3a88c8">7.364</text>
<rect x="948" y="131" width="230.4000000000001" height="19" fill="#c4c4c4"/>
<rect x="1178.4" y="131" width="84.59999999999991" height="19" fill="#ececec"/>
<rect x="948" y="131" width="230.4000000000001" height="1" fill="#a2a2a2"/>
<rect x="1178.4" y="131" width="84.59999999999991" height="1" fill="#d2d2d2"/>
<text x="962" y="145.7" font-size="14" fill="#333333" letter-spacing="-0.05" text-anchor="start">Sea200.3_Yr^:Season200^</text>
<text x="1210.5 1220.7 1227.1 1235.1 1243.1" y="145" font-size="14" fill="#2a9090">1.753</text>
<rect x="948" y="150" width="230.4000000000001" height="19" fill="#c4c4c4"/>
<rect x="1178.4" y="150" width="84.59999999999991" height="19" fill="#e3e3e3"/>
<rect x="948" y="150" width="230.4000000000001" height="1" fill="#a2a2a2"/>
<rect x="1178.4" y="150" width="84.59999999999991" height="1" fill="#d2d2d2"/>
<text x="962" y="164.7" font-size="14" fill="#333333" letter-spacing="-0.05" text-anchor="start">Sea200.4_Yr^:Season200^</text>
<text x="1202.7 1210.5 1220.7 1227.1 1235.1 1243.1" y="164" font-size="14" fill="#2a8a2a">27.432</text>
<rect x="948" y="169" width="230.4000000000001" height="19" fill="#c4c4c4"/>
<rect x="1178.4" y="169" width="84.59999999999991" height="19" fill="#ececec"/>
<rect x="948" y="169" width="230.4000000000001" height="1" fill="#a2a2a2"/>
<rect x="1178.4" y="169" width="84.59999999999991" height="1" fill="#d2d2d2"/>
<text x="962" y="183.7" font-size="14" fill="#333333" letter-spacing="-0.05" text-anchor="start">Sea200.5_Yr^:Season200^</text>
<text x="1210.5 1220.7 1227.1 1235.1 1243.1" y="183" font-size="14" fill="#2a9a2a">5.639</text>
<rect x="948" y="188" width="230.4000000000001" height="19" fill="#c4c4c4"/>
<rect x="1178.4" y="188" width="84.59999999999991" height="19" fill="#e3e3e3"/>
<rect x="948" y="188" width="230.4000000000001" height="1" fill="#a2a2a2"/>
<rect x="1178.4" y="188" width="84.59999999999991" height="1" fill="#d2d2d2"/>
<text x="962" y="202.7" font-size="14" fill="#333333" letter-spacing="-0.05" text-anchor="start">Sea200.6_Yr^:Season200^</text>
<text x="1196.6 1202.7 1210.5 1220.7 1227.1 1235.1 1243.1" y="202" font-size="14" fill="#6868d0">-13.072</text>
<rect x="948" y="207" width="230.4000000000001" height="19" fill="#c4c4c4"/>
<rect x="1178.4" y="207" width="84.59999999999991" height="19" fill="#ececec"/>
<rect x="948" y="207" width="230.4000000000001" height="1" fill="#a2a2a2"/>
<rect x="1178.4" y="207" width="84.59999999999991" height="1" fill="#d2d2d2"/>
<text x="962" y="221.7" font-size="14" fill="#333333" letter-spacing="-0.05" text-anchor="start">Sea200.7_Yr^:Season200^</text>
<text x="1196.6 1202.7 1210.5 1220.7 1227.1 1235.1 1243.1" y="221" font-size="14" fill="#922222">-35.113</text>
<rect x="948" y="226" width="230.4000000000001" height="19" fill="#c4c4c4"/>
<rect x="1178.4" y="226" width="84.59999999999991" height="19" fill="#e3e3e3"/>
<rect x="948" y="226" width="230.4000000000001" height="1" fill="#a2a2a2"/>
<rect x="1178.4" y="226" width="84.59999999999991" height="1" fill="#d2d2d2"/>
<text x="962" y="240.7" font-size="14" fill="#333333" letter-spacing="-0.05" text-anchor="start">Sea200.8_Yr^:Season200^</text>
<text x="1210.5 1220.7 1227.1 1235.1 1243.1" y="240" font-size="14" fill="#d02020">1.857</text>
<rect x="948" y="245" width="230.4000000000001" height="19" fill="#c4c4c4"/>
<rect x="1178.4" y="245" width="84.59999999999991" height="19" fill="#ececec"/>
<rect x="948" y="245" width="230.4000000000001" height="1" fill="#a2a2a2"/>
<rect x="1178.4" y="245" width="84.59999999999991" height="1" fill="#d2d2d2"/>
<text x="962" y="259.7" font-size="14" fill="#333333" letter-spacing="-0.05" text-anchor="start">Sea200.9_Yr^:Season200^</text>
<text x="1202.7 1210.5 1220.7 1227.1 1235.1 1243.1" y="259" font-size="14" fill="#7f707f">19.671</text>
<rect x="948" y="264" width="230.4000000000001" height="19" fill="#c4c4c4"/>
<rect x="1178.4" y="264" width="84.59999999999991" height="19" fill="#e3e3e3"/>
<rect x="948" y="264" width="230.4000000000001" height="1" fill="#a2a2a2"/>
<rect x="1178.4" y="264" width="84.59999999999991" height="1" fill="#d2d2d2"/>
<text x="962" y="278.7" font-size="14" fill="#333333" letter-spacing="-0.05" text-anchor="start">Sea200.10_Yr^:Season200^</text>
<text x="1204.4 1210.5 1220.7 1227.1 1235.1 1243.1" y="278" font-size="14" fill="#a0683e">-5.214</text>
<rect x="948" y="283" width="230.4000000000001" height="19" fill="#c4c4c4"/>
<rect x="1178.4" y="283" width="84.59999999999991" height="19" fill="#ececec"/>
<rect x="948" y="283" width="230.4000000000001" height="1" fill="#a2a2a2"/>
<rect x="1178.4" y="283" width="84.59999999999991" height="1" fill="#d2d2d2"/>
<rect x="948" y="302" width="230.4000000000001" height="19" fill="#c4c4c4"/>
<rect x="1178.4" y="302" width="84.59999999999991" height="19" fill="#e3e3e3"/>
<rect x="948" y="302" width="230.4000000000001" height="1" fill="#a2a2a2"/>
<rect x="1178.4" y="302" width="84.59999999999991" height="1" fill="#d2d2d2"/>
<rect x="1253.4" y="93" width="1" height="228" fill="#c8c8c8"/>
<rect x="1177.4" y="93" width="1" height="228" fill="#a8a8a8"/>
<rect x="1178.9" y="93.5" width="74.5" height="19" fill="none" stroke="#4d5f7a" stroke-width="1.2"/>
<rect x="947" y="321" width="316" height="1" fill="#a09a94"/>
<rect x="947" y="322.5" width="317" height="1.2" fill="#5c6676"/>
<rect x="947" y="64" width="1" height="259.5" fill="#667080"/>
<rect x="1263" y="64" width="1" height="259.5" fill="#8a96a6"/>
<rect x="0" y="331" width="1273" height="2" fill="#8e8e8e"/>
<path d="M0 363 L0 340 Q0 333.5 6 333.5 L1265 333.5 Q1272.5 333.5 1272.5 341 L1272.5 982 L0 982 Z" fill="url(#ctitle)"/>
<rect x="0" y="363" width="1273" height="619" fill="#b6cde6"/>
<rect x="1264" y="363" width="8" height="619" fill="url(#frameR)"/>
<rect x="1272" y="340" width="1" height="642" fill="#3a5a7a"/>
<rect x="0" y="333" width="1273" height="1" fill="#f4f8fc"/>
<rect x="8.5" y="343.5" width="14.5" height="14.5" rx="1.5" fill="#fafafa"/>
<rect x="10.5" y="348.5" width="3" height="3" fill="#a01020"/>
<rect x="14.5" y="347.5" width="3" height="3" fill="#a01020"/>
<rect x="18.5" y="345.5" width="2" height="2" fill="#a01020"/>
<rect x="17.5" y="348.5" width="3" height="4" fill="#a01020"/>
<rect x="13.5" y="351.5" width="3" height="3" fill="#a01020"/>
<rect x="10.5" y="351.5" width="2" height="2" fill="#a01020"/>
<rect x="14.5" y="354.5" width="2" height="2" fill="#a01020"/>
<text x="28" y="355.8" font-size="12" fill="#1c2448" letter-spacing="-0.1">ZCE - Corn (Globex), Daily Continuation</text>
<rect x="1131" y="342.5" width="30" height="16.5" rx="3" fill="#fdfdfd"/>
<circle cx="1146" cy="351" r="4.3" fill="#c9d9f6" stroke="#111" stroke-width="1.1"/>
<rect x="1163.5" y="342.5" width="31" height="16.5" rx="2.5" fill="url(#cbtn)" stroke="#6f8cab" stroke-width="1"/>
<rect x="1197.5" y="342.5" width="31" height="16.5" rx="2.5" fill="url(#cbtn)" stroke="#6f8cab" stroke-width="1"/>
<rect x="1173.5" y="352" width="10" height="4" rx="1" fill="#fafafa" stroke="#3a3a3a" stroke-width="1"/>
<rect x="1208" y="346.5" width="9.5" height="8" rx="1" fill="#fafafa" stroke="#3a3a3a" stroke-width="1.2"/>
<rect x="1210.5" y="349" width="4.5" height="2.5" fill="none" stroke="#3a3a3a" stroke-width="1"/>
<rect x="1231.5" y="342.5" width="31.5" height="16.5" rx="2.5" fill="url(#cclose)" stroke="#8a2a1a" stroke-width="1"/>
<path d="M1242.8 347.3 L1251.8 354.3 M1251.8 347.3 L1242.8 354.3" stroke="#5a2010" stroke-width="4.2" stroke-linecap="round"/>
<path d="M1242.8 347.3 L1251.8 354.3 M1251.8 347.3 L1242.8 354.3" stroke="#fafafa" stroke-width="2.4" stroke-linecap="round"/>
<rect x="6" y="363" width="1259" height="22" fill="#929292"/>
<rect x="6" y="384" width="1259" height="1" fill="#747474"/>
<rect x="6" y="385" width="1259" height="2" fill="#b8b8b8"/>
<rect x="6" y="385" width="1259" height="1" fill="#c0c0c0"/>
<rect x="6" y="363" width="2" height="613" fill="#777"/>
<rect x="8" y="366" width="48.5" height="18" fill="#c9c9c9"/>
<rect x="8" y="366" width="48.5" height="2" fill="#f0a030"/>
<rect x="8" y="368" width="1" height="16" fill="#fafafa"/>
<text x="13.8" y="378.6" font-size="10.5" fill="#3a3a3a" letter-spacing="-0.35">ZCE,DC</text>
<rect x="57" y="366" width="24.5" height="18" fill="#5a5a5a"/>
<rect x="57" y="366" width="23" height="1" fill="#f0f0f0"/>
<rect x="57" y="366" width="1" height="18" fill="#f0f0f0"/>
<text x="69.3" y="380" font-size="12" fill="#c8c8c8" text-anchor="middle">+</text>
<rect x="8" y="387" width="1256" height="588" fill="#ffffff"/>
<rect x="8" y="975" width="1256" height="1" fill="#e6eef8"/>
<rect x="8" y="386" width="1180" height="1" fill="#a0a0a0"/>
<rect x="8" y="387" width="1180" height="1" fill="#505050"/>
<rect x="8" y="388" width="1180" height="1" fill="#000"/>
<rect x="8" y="388" width="1" height="569" fill="#000"/>
<rect x="1187" y="388" width="1" height="569" fill="#000"/>
<rect x="8" y="956" width="1180" height="1" fill="#000"/>
<rect x="8" y="959" width="1170" height="1" fill="#000"/>
<rect x="786" y="956" width="392" height="4" fill="#000"/>
<path d="M1115 739h1v1h-1zM793 688h1v1h-1zM555 636h1v1h-1zM639 895h1v1h-1zM961 537h1v1h-1zM1059 843h1v1h-1zM107 625h1v1h-1zM401 843h1v1h-1zM261 454h1v1h-1zM667 584h1v1h-1zM107 890h1v1h-1zM429 532h1v1h-1zM513 791h1v1h-1zM849 480h1v1h-1zM527 429h1v1h-1zM611 688h1v1h-1zM275 739h1v1h-1zM37 947h1v1h-1zM107 517h1v1h-1zM373 636h1v1h-1zM653 770h1v1h-1zM219 843h1v1h-1zM863 765h1v1h-1zM387 656h1v1h-1zM653 397h1v1h-1zM387 921h1v1h-1zM1031 843h1v1h-1zM653 662h1v1h-1zM317 713h1v1h-1zM1059 532h1v1h-1zM1143 791h1v1h-1zM387 548h1v1h-1zM961 900h1v1h-1zM485 791h1v1h-1zM961 491h1v1h-1zM261 817h1v1h-1zM905 739h1v1h-1zM583 688h1v1h-1zM667 947h1v1h-1zM513 480h1v1h-1zM1003 636h1v1h-1zM1087 895h1v1h-1zM961 527h1v1h-1zM429 895h1v1h-1zM107 615h1v1h-1zM849 843h1v1h-1zM37 636h1v1h-1zM457 584h1v1h-1zM219 532h1v1h-1zM303 791h1v1h-1zM751 429h1v1h-1zM65 739h1v1h-1zM1129 869h1v1h-1zM653 760h1v1h-1zM331 480h1v1h-1zM387 646h1v1h-1zM1143 480h1v1h-1zM961 625h1v1h-1zM793 403h1v1h-1zM1087 584h1v1h-1zM107 713h1v1h-1zM513 843h1v1h-1zM961 890h1v1h-1zM933 791h1v1h-1zM695 739h1v1h-1zM723 429h1v1h-1zM457 947h1v1h-1zM107 605h1v1h-1zM653 858h1v1h-1zM1129 558h1v1h-1zM1073 843h1v1h-1zM331 843h1v1h-1zM387 744h1v1h-1zM835 791h1v1h-1zM653 485h1v1h-1zM93 791h1v1h-1zM443 532h1v1h-1zM653 750h1v1h-1zM863 480h1v1h-1zM541 429h1v1h-1zM625 688h1v1h-1zM387 636h1v1h-1zM233 843h1v1h-1zM961 615h1v1h-1zM107 703h1v1h-1zM583 403h1v1h-1zM9 662h1v1h-1zM1073 532h1v1h-1zM1171 429h1v1h-1zM919 739h1v1h-1zM597 688h1v1h-1zM653 848h1v1h-1zM1017 636h1v1h-1zM1101 895h1v1h-1zM443 895h1v1h-1zM863 843h1v1h-1zM387 734h1v1h-1zM65 454h1v1h-1zM653 475h1v1h-1zM471 584h1v1h-1zM891 532h1v1h-1zM233 532h1v1h-1zM317 791h1v1h-1zM961 713h1v1h-1zM107 801h1v1h-1zM737 739h1v1h-1zM415 688h1v1h-1zM79 739h1v1h-1zM1059 610h1v1h-1zM345 480h1v1h-1zM23 429h1v1h-1zM261 895h1v1h-1zM961 605h1v1h-1zM289 584h1v1h-1zM1073 895h1v1h-1zM107 693h1v1h-1zM933 506h1v1h-1zM51 532h1v1h-1zM457 662h1v1h-1zM1101 584h1v1h-1zM121 713h1v1h-1zM947 791h1v1h-1zM1045 688h1v1h-1zM1129 947h1v1h-1zM65 817h1v1h-1zM709 739h1v1h-1zM653 838h1v1h-1zM471 947h1v1h-1zM975 480h1v1h-1zM653 429h1v1h-1zM891 895h1v1h-1zM387 724h1v1h-1zM499 636h1v1h-1zM653 465h1v1h-1zM261 584h1v1h-1zM345 843h1v1h-1zM989 765h1v1h-1zM961 703h1v1h-1zM765 791h1v1h-1zM107 791h1v1h-1zM527 739h1v1h-1zM877 480h1v1h-1zM555 429h1v1h-1zM289 947h1v1h-1zM933 869h1v1h-1zM135 480h1v1h-1zM51 895h1v1h-1zM401 636h1v1h-1zM107 418h1v1h-1zM247 843h1v1h-1zM653 936h1v1h-1zM1129 636h1v1h-1zM387 822h1v1h-1zM975 843h1v1h-1zM373 429h1v1h-1zM653 563h1v1h-1zM387 858h1v1h-1zM863 558h1v1h-1zM387 449h1v1h-1zM961 801h1v1h-1zM765 480h1v1h-1zM191 739h1v1h-1zM1031 636h1v1h-1zM1115 895h1v1h-1zM317 506h1v1h-1zM877 843h1v1h-1zM961 693h1v1h-1zM135 843h1v1h-1zM485 584h1v1h-1zM107 781h1v1h-1zM905 532h1v1h-1zM247 532h1v1h-1zM1003 429h1v1h-1zM751 739h1v1h-1zM429 688h1v1h-1zM107 408h1v1h-1zM359 480h1v1h-1zM849 636h1v1h-1zM37 429h1v1h-1zM275 895h1v1h-1zM653 926h1v1h-1zM653 517h1v1h-1zM303 584h1v1h-1zM863 921h1v1h-1zM387 812h1v1h-1zM65 532h1v1h-1zM653 553h1v1h-1zM793 713h1v1h-1zM387 403h1v1h-1zM1115 584h1v1h-1zM317 869h1v1h-1zM387 439h1v1h-1zM961 791h1v1h-1zM107 879h1v1h-1zM1059 688h1v1h-1zM1143 947h1v1h-1zM723 739h1v1h-1zM485 947h1v1h-1zM989 480h1v1h-1zM667 429h1v1h-1zM107 915h1v1h-1zM905 895h1v1h-1zM961 418h1v1h-1zM107 506h1v1h-1zM513 636h1v1h-1zM527 454h1v1h-1zM933 584h1v1h-1zM275 584h1v1h-1zM359 843h1v1h-1zM695 532h1v1h-1zM779 791h1v1h-1zM121 791h1v1h-1zM541 739h1v1h-1zM219 688h1v1h-1zM303 947h1v1h-1zM653 651h1v1h-1zM149 480h1v1h-1zM65 895h1v1h-1zM331 636h1v1h-1zM1115 947h1v1h-1zM387 537h1v1h-1zM317 558h1v1h-1zM93 584h1v1h-1zM1143 636h1v1h-1zM583 713h1v1h-1zM261 662h1v1h-1zM989 843h1v1h-1zM961 781h1v1h-1zM191 454h1v1h-1zM107 869h1v1h-1zM751 791h1v1h-1zM527 817h1v1h-1zM1171 739h1v1h-1zM933 947h1v1h-1zM779 480h1v1h-1zM107 496h1v1h-1zM205 739h1v1h-1zM695 895h1v1h-1zM303 636h1v1h-1zM807 843h1v1h-1zM149 843h1v1h-1zM569 791h1v1h-1zM919 532h1v1h-1zM387 900h1v1h-1zM835 947h1v1h-1zM653 641h1v1h-1zM177 532h1v1h-1zM1017 429h1v1h-1zM681 480h1v1h-1zM93 947h1v1h-1zM443 688h1v1h-1zM387 936h1v1h-1zM23 739h1v1h-1zM863 636h1v1h-1zM387 527h1v1h-1zM961 879h1v1h-1zM191 817h1v1h-1zM961 506h1v1h-1zM107 594h1v1h-1zM79 532h1v1h-1zM1059 403h1v1h-1zM723 454h1v1h-1zM807 532h1v1h-1zM1073 688h1v1h-1zM653 739h1v1h-1zM835 636h1v1h-1zM919 895h1v1h-1zM121 506h1v1h-1zM177 895h1v1h-1zM387 625h1v1h-1zM681 843h1v1h-1zM947 584h1v1h-1zM387 890h1v1h-1zM65 610h1v1h-1zM709 532h1v1h-1zM793 791h1v1h-1zM653 631h1v1h-1zM891 688h1v1h-1zM555 739h1v1h-1zM233 688h1v1h-1zM317 947h1v1h-1zM387 517h1v1h-1zM961 869h1v1h-1zM499 429h1v1h-1zM163 480h1v1h-1zM961 460h1v1h-1zM79 895h1v1h-1zM723 817h1v1h-1zM345 636h1v1h-1zM989 558h1v1h-1zM107 584h1v1h-1zM527 532h1v1h-1zM933 662h1v1h-1zM51 688h1v1h-1zM121 869h1v1h-1zM863 688h1v1h-1zM947 947h1v1h-1zM653 729h1v1h-1zM1129 429h1v1h-1zM793 480h1v1h-1zM709 895h1v1h-1zM387 615h1v1h-1zM975 636h1v1h-1zM317 636h1v1h-1zM737 584h1v1h-1zM821 843h1v1h-1zM163 843h1v1h-1zM961 594h1v1h-1zM583 791h1v1h-1zM107 682h1v1h-1zM989 921h1v1h-1zM1003 739h1v1h-1zM191 532h1v1h-1zM1031 429h1v1h-1zM765 947h1v1h-1zM107 947h1v1h-1zM611 480h1v1h-1zM289 429h1v1h-1zM37 739h1v1h-1zM527 895h1v1h-1zM135 636h1v1h-1zM107 574h1v1h-1zM653 827h1v1h-1zM387 713h1v1h-1zM793 843h1v1h-1zM653 454h1v1h-1zM653 719h1v1h-1zM821 532h1v1h-1zM737 947h1v1h-1zM667 739h1v1h-1zM387 605h1v1h-1zM961 548h1v1h-1zM765 636h1v1h-1zM191 895h1v1h-1zM611 843h1v1h-1zM961 584h1v1h-1zM107 672h1v1h-1zM373 791h1v1h-1zM723 532h1v1h-1zM905 688h1v1h-1zM247 688h1v1h-1zM513 429h1v1h-1zM653 817h1v1h-1zM653 408h1v1h-1zM121 584h1v1h-1zM387 703h1v1h-1zM541 532h1v1h-1zM653 444h1v1h-1zM863 403h1v1h-1zM65 688h1v1h-1zM961 682h1v1h-1zM107 770h1v1h-1zM877 688h1v1h-1zM961 947h1v1h-1zM1143 429h1v1h-1zM723 895h1v1h-1zM583 506h1v1h-1zM107 397h1v1h-1zM989 636h1v1h-1zM9 765h1v1h-1zM107 662h1v1h-1zM751 584h1v1h-1zM653 915h1v1h-1zM527 610h1v1h-1zM1171 532h1v1h-1zM597 791h1v1h-1zM1017 739h1v1h-1zM205 532h1v1h-1zM695 688h1v1h-1zM653 542h1v1h-1zM121 947h1v1h-1zM625 480h1v1h-1zM303 429h1v1h-1zM541 895h1v1h-1zM653 807h1v1h-1zM149 636h1v1h-1zM793 558h1v1h-1zM569 584h1v1h-1zM387 693h1v1h-1zM1059 713h1v1h-1zM23 532h1v1h-1zM961 672h1v1h-1zM9 454h1v1h-1zM583 869h1v1h-1zM107 760h1v1h-1zM191 610h1v1h-1zM751 947h1v1h-1zM933 429h1v1h-1zM1171 895h1v1h-1zM359 688h1v1h-1zM457 765h1v1h-1zM779 636h1v1h-1zM205 895h1v1h-1zM653 905h1v1h-1zM541 584h1v1h-1zM625 843h1v1h-1zM1045 791h1v1h-1zM387 791h1v1h-1zM793 921h1v1h-1zM653 532h1v1h-1zM1157 480h1v1h-1zM835 429h1v1h-1zM569 947h1v1h-1zM415 480h1v1h-1zM499 739h1v1h-1zM93 429h1v1h-1zM177 688h1v1h-1zM387 418h1v1h-1zM681 636h1v1h-1zM961 770h1v1h-1zM23 895h1v1h-1zM961 397h1v1h-1zM107 485h1v1h-1zM527 662h1v1h-1zM961 662h1v1h-1zM107 750h1v1h-1zM457 454h1v1h-1zM79 688h1v1h-1zM723 610h1v1h-1zM1045 480h1v1h-1zM1129 739h1v1h-1zM807 688h1v1h-1zM471 739h1v1h-1zM653 895h1v1h-1zM1157 843h1v1h-1zM121 662h1v1h-1zM415 843h1v1h-1zM387 781h1v1h-1zM653 522h1v1h-1zM1031 739h1v1h-1zM709 688h1v1h-1zM387 408h1v1h-1zM961 760h1v1h-1zM289 739h1v1h-1zM639 480h1v1h-1zM317 429h1v1h-1zM107 848h1v1h-1zM555 895h1v1h-1zM163 636h1v1h-1zM457 817h1v1h-1zM107 884h1v1h-1zM583 584h1v1h-1zM107 475h1v1h-1zM135 429h1v1h-1zM387 879h1v1h-1zM653 620h1v1h-1zM947 429h1v1h-1zM387 915h1v1h-1zM387 506h1v1h-1zM961 858h1v1h-1zM793 636h1v1h-1zM555 584h1v1h-1zM639 843h1v1h-1zM961 485h1v1h-1zM1059 791h1v1h-1zM401 791h1v1h-1zM667 532h1v1h-1zM961 750h1v1h-1zM989 403h1v1h-1zM583 947h1v1h-1zM107 838h1v1h-1zM765 429h1v1h-1zM429 480h1v1h-1zM513 739h1v1h-1zM107 429h1v1h-1zM191 688h1v1h-1zM1003 895h1v1h-1zM611 636h1v1h-1zM37 895h1v1h-1zM107 465h1v1h-1zM373 584h1v1h-1zM219 791h1v1h-1zM863 713h1v1h-1zM1129 454h1v1h-1zM387 869h1v1h-1zM1031 791h1v1h-1zM653 610h1v1h-1zM1059 480h1v1h-1zM1143 739h1v1h-1zM821 688h1v1h-1zM387 496h1v1h-1zM961 848h1v1h-1zM485 739h1v1h-1zM107 936h1v1h-1zM961 439h1v1h-1zM261 765h1v1h-1zM583 636h1v1h-1zM667 895h1v1h-1zM1003 584h1v1h-1zM1087 843h1v1h-1zM961 475h1v1h-1zM429 843h1v1h-1zM107 563h1v1h-1zM849 791h1v1h-1zM37 584h1v1h-1zM457 532h1v1h-1zM373 947h1v1h-1zM723 688h1v1h-1zM219 480h1v1h-1zM303 739h1v1h-1zM1129 817h1v1h-1zM653 708h1v1h-1zM387 594h1v1h-1zM149 429h1v1h-1zM1087 532h1v1h-1zM1003 947h1v1h-1zM961 838h1v1h-1zM933 739h1v1h-1zM107 926h1v1h-1zM961 429h1v1h-1zM457 895h1v1h-1zM107 553h1v1h-1zM9 921h1v1h-1zM191 403h1v1h-1zM1129 506h1v1h-1zM1073 791h1v1h-1zM331 791h1v1h-1zM1171 688h1v1h-1zM835 739h1v1h-1zM597 947h1v1h-1zM779 429h1v1h-1zM93 739h1v1h-1zM443 480h1v1h-1zM121 429h1v1h-1zM205 688h1v1h-1zM653 698h1v1h-1zM625 636h1v1h-1zM387 584h1v1h-1zM961 936h1v1h-1zM233 791h1v1h-1zM961 563h1v1h-1zM1059 869h1v1h-1zM107 651h1v1h-1zM261 480h1v1h-1zM9 610h1v1h-1zM1073 480h1v1h-1zM597 636h1v1h-1zM653 796h1v1h-1zM723 403h1v1h-1zM1017 584h1v1h-1zM1101 843h1v1h-1zM443 843h1v1h-1zM863 791h1v1h-1zM387 682h1v1h-1zM653 423h1v1h-1zM471 532h1v1h-1zM1045 947h1v1h-1zM387 947h1v1h-1zM891 480h1v1h-1zM569 429h1v1h-1zM653 688h1v1h-1zM233 480h1v1h-1zM317 739h1v1h-1zM415 636h1v1h-1zM1059 558h1v1h-1zM387 574h1v1h-1zM961 926h1v1h-1zM261 843h1v1h-1zM961 517h1v1h-1zM961 553h1v1h-1zM289 532h1v1h-1zM107 641h1v1h-1zM933 454h1v1h-1zM51 480h1v1h-1zM457 610h1v1h-1zM1101 532h1v1h-1zM1017 947h1v1h-1zM947 739h1v1h-1zM1045 636h1v1h-1zM1129 895h1v1h-1zM65 765h1v1h-1zM653 786h1v1h-1zM471 895h1v1h-1zM891 843h1v1h-1zM387 672h1v1h-1zM499 584h1v1h-1zM653 413h1v1h-1zM1059 921h1v1h-1zM261 532h1v1h-1zM345 791h1v1h-1zM989 713h1v1h-1zM961 651h1v1h-1zM765 739h1v1h-1zM793 429h1v1h-1zM107 739h1v1h-1zM289 895h1v1h-1zM639 636h1v1h-1zM933 817h1v1h-1zM51 843h1v1h-1zM401 584h1v1h-1zM107 631h1v1h-1zM247 791h1v1h-1zM653 884h1v1h-1zM1129 584h1v1h-1zM387 770h1v1h-1zM975 791h1v1h-1zM653 511h1v1h-1zM1157 688h1v1h-1zM499 947h1v1h-1zM653 776h1v1h-1zM863 506h1v1h-1zM387 397h1v1h-1zM387 662h1v1h-1zM1031 584h1v1h-1zM1115 843h1v1h-1zM317 454h1v1h-1zM877 791h1v1h-1zM961 641h1v1h-1zM135 791h1v1h-1zM485 532h1v1h-1zM107 729h1v1h-1zM401 947h1v1h-1zM905 480h1v1h-1zM583 429h1v1h-1zM667 688h1v1h-1zM247 480h1v1h-1zM429 636h1v1h-1zM849 584h1v1h-1zM275 843h1v1h-1zM653 874h1v1h-1zM303 532h1v1h-1zM219 947h1v1h-1zM863 869h1v1h-1zM387 760h1v1h-1zM65 480h1v1h-1zM653 501h1v1h-1zM1115 532h1v1h-1zM1031 947h1v1h-1zM317 817h1v1h-1zM961 739h1v1h-1zM639 688h1v1h-1zM107 827h1v1h-1zM1059 636h1v1h-1zM1143 895h1v1h-1zM485 895h1v1h-1zM261 921h1v1h-1zM905 843h1v1h-1zM107 454h1v1h-1zM513 584h1v1h-1zM933 532h1v1h-1zM107 719h1v1h-1zM275 532h1v1h-1zM359 791h1v1h-1zM849 947h1v1h-1zM695 480h1v1h-1zM779 739h1v1h-1zM457 688h1v1h-1zM121 739h1v1h-1zM219 636h1v1h-1zM303 895h1v1h-1zM653 599h1v1h-1zM65 843h1v1h-1zM653 864h1v1h-1zM331 584h1v1h-1zM387 485h1v1h-1zM93 532h1v1h-1zM387 750h1v1h-1zM1143 584h1v1h-1zM261 610h1v1h-1zM989 791h1v1h-1zM961 729h1v1h-1zM1087 688h1v1h-1zM107 817h1v1h-1zM513 947h1v1h-1zM527 765h1v1h-1zM933 895h1v1h-1zM107 444h1v1h-1zM695 843h1v1h-1zM9 403h1v1h-1zM807 791h1v1h-1zM149 791h1v1h-1zM1129 662h1v1h-1zM569 739h1v1h-1zM919 480h1v1h-1zM597 429h1v1h-1zM331 947h1v1h-1zM387 848h1v1h-1zM835 895h1v1h-1zM653 589h1v1h-1zM177 480h1v1h-1zM93 895h1v1h-1zM443 636h1v1h-1zM387 884h1v1h-1zM863 584h1v1h-1zM387 475h1v1h-1zM961 827h1v1h-1zM191 765h1v1h-1zM317 532h1v1h-1zM961 454h1v1h-1zM233 947h1v1h-1zM107 542h1v1h-1zM415 429h1v1h-1zM79 480h1v1h-1zM961 719h1v1h-1zM107 807h1v1h-1zM807 480h1v1h-1zM1073 636h1v1h-1zM107 434h1v1h-1zM835 584h1v1h-1zM919 843h1v1h-1zM457 403h1v1h-1zM121 454h1v1h-1zM653 952h1v1h-1zM177 843h1v1h-1zM681 791h1v1h-1zM947 532h1v1h-1zM863 947h1v1h-1zM387 838h1v1h-1zM1045 429h1v1h-1zM65 558h1v1h-1zM709 480h1v1h-1zM793 739h1v1h-1zM387 429h1v1h-1zM471 688h1v1h-1zM653 579h1v1h-1zM891 636h1v1h-1zM233 636h1v1h-1zM317 895h1v1h-1zM387 465h1v1h-1zM961 817h1v1h-1zM107 905h1v1h-1zM961 408h1v1h-1zM79 843h1v1h-1zM723 765h1v1h-1zM345 584h1v1h-1zM989 506h1v1h-1zM107 941h1v1h-1zM961 444h1v1h-1zM107 532h1v1h-1zM527 480h1v1h-1zM933 610h1v1h-1zM51 636h1v1h-1zM1101 688h1v1h-1zM121 817h1v1h-1zM653 677h1v1h-1zM947 895h1v1h-1zM65 921h1v1h-1zM709 843h1v1h-1zM387 563h1v1h-1zM961 915h1v1h-1zM975 584h1v1h-1zM317 584h1v1h-1zM737 532h1v1h-1zM821 791h1v1h-1zM163 791h1v1h-1zM961 542h1v1h-1zM583 739h1v1h-1zM261 688h1v1h-1zM345 947h1v1h-1zM989 869h1v1h-1zM961 807h1v1h-1zM191 480h1v1h-1zM765 895h1v1h-1zM107 895h1v1h-1zM527 843h1v1h-1zM877 584h1v1h-1zM135 584h1v1h-1zM107 522h1v1h-1zM247 947h1v1h-1zM429 429h1v1h-1zM387 926h1v1h-1zM975 947h1v1h-1zM653 667h1v1h-1zM821 480h1v1h-1zM737 895h1v1h-1zM387 553h1v1h-1zM961 905h1v1h-1zM961 496h1v1h-1zM765 584h1v1h-1zM191 843h1v1h-1zM611 791h1v1h-1zM961 532h1v1h-1zM877 947h1v1h-1zM107 620h1v1h-1zM1059 429h1v1h-1zM373 739h1v1h-1zM723 480h1v1h-1zM401 429h1v1h-1zM485 688h1v1h-1zM135 947h1v1h-1zM905 636h1v1h-1zM247 636h1v1h-1zM359 584h1v1h-1zM653 765h1v1h-1zM121 532h1v1h-1zM387 651h1v1h-1zM541 480h1v1h-1zM219 429h1v1h-1zM653 392h1v1h-1zM65 636h1v1h-1zM793 817h1v1h-1zM1115 688h1v1h-1zM877 636h1v1h-1zM961 895h1v1h-1zM723 843h1v1h-1zM583 454h1v1h-1zM261 403h1v1h-1zM989 584h1v1h-1zM9 713h1v1h-1zM107 610h1v1h-1zM751 532h1v1h-1zM527 558h1v1h-1zM1171 480h1v1h-1zM849 429h1v1h-1zM933 688h1v1h-1zM597 739h1v1h-1zM275 688h1v1h-1zM359 947h1v1h-1zM205 480h1v1h-1zM695 636h1v1h-1zM121 895h1v1h-1zM541 843h1v1h-1zM653 755h1v1h-1zM149 584h1v1h-1zM793 506h1v1h-1zM569 532h1v1h-1zM387 641h1v1h-1zM317 662h1v1h-1zM93 688h1v1h-1zM23 480h1v1h-1zM961 620h1v1h-1zM583 817h1v1h-1zM107 708h1v1h-1zM989 947h1v1h-1zM191 558h1v1h-1zM751 895h1v1h-1zM527 921h1v1h-1zM1171 843h1v1h-1zM359 636h1v1h-1zM457 713h1v1h-1zM779 584h1v1h-1zM205 843h1v1h-1zM653 853h1v1h-1zM625 791h1v1h-1zM1045 739h1v1h-1zM1073 429h1v1h-1zM807 947h1v1h-1zM387 739h1v1h-1zM149 947h1v1h-1zM793 869h1v1h-1zM653 480h1v1h-1zM331 429h1v1h-1zM569 895h1v1h-1zM919 636h1v1h-1zM177 636h1v1h-1zM681 584h1v1h-1zM23 843h1v1h-1zM387 631h1v1h-1zM961 574h1v1h-1zM191 921h1v1h-1zM555 480h1v1h-1zM233 429h1v1h-1zM961 610h1v1h-1zM107 698h1v1h-1zM79 636h1v1h-1zM723 558h1v1h-1zM779 947h1v1h-1zM807 636h1v1h-1zM653 843h1v1h-1zM1157 791h1v1h-1zM653 434h1v1h-1zM121 610h1v1h-1zM415 791h1v1h-1zM387 729h1v1h-1zM681 947h1v1h-1zM863 429h1v1h-1zM947 688h1v1h-1zM653 470h1v1h-1zM709 636h1v1h-1zM961 708h1v1h-1zM107 796h1v1h-1zM555 843h1v1h-1zM163 584h1v1h-1zM723 921h1v1h-1zM583 532h1v1h-1zM107 423h1v1h-1zM989 662h1v1h-1zM107 688h1v1h-1zM653 941h1v1h-1zM37 480h1v1h-1zM919 688h1v1h-1zM387 827h1v1h-1zM653 568h1v1h-1zM653 833h1v1h-1zM387 454h1v1h-1zM65 403h1v1h-1zM793 584h1v1h-1zM387 719h1v1h-1zM555 532h1v1h-1zM639 791h1v1h-1zM1059 739h1v1h-1zM737 688h1v1h-1zM821 947h1v1h-1zM401 739h1v1h-1zM163 947h1v1h-1zM667 480h1v1h-1zM961 698h1v1h-1zM345 429h1v1h-1zM583 895h1v1h-1zM107 786h1v1h-1zM1003 843h1v1h-1zM191 636h1v1h-1zM611 584h1v1h-1zM37 843h1v1h-1zM107 413h1v1h-1zM373 532h1v1h-1zM219 739h1v1h-1zM653 931h1v1h-1zM247 429h1v1h-1zM387 817h1v1h-1zM793 947h1v1h-1zM653 558h1v1h-1zM975 429h1v1h-1zM821 636h1v1h-1zM387 444h1v1h-1zM961 796h1v1h-1zM261 713h1v1h-1zM667 843h1v1h-1zM1003 532h1v1h-1zM1087 791h1v1h-1zM961 423h1v1h-1zM429 791h1v1h-1zM107 511h1v1h-1zM849 739h1v1h-1zM37 532h1v1h-1zM877 429h1v1h-1zM527 688h1v1h-1zM961 688h1v1h-1zM611 947h1v1h-1zM107 776h1v1h-1zM457 480h1v1h-1zM373 895h1v1h-1zM723 636h1v1h-1zM1129 765h1v1h-1zM653 656h1v1h-1zM597 532h1v1h-1zM653 921h1v1h-1zM387 542h1v1h-1zM695 429h1v1h-1zM121 688h1v1h-1zM387 807h1v1h-1zM653 548h1v1h-1zM1087 480h1v1h-1zM387 434h1v1h-1zM961 786h1v1h-1zM107 874h1v1h-1zM457 843h1v1h-1zM107 910h1v1h-1zM583 610h1v1h-1zM107 501h1v1h-1zM9 869h1v1h-1zM1073 739h1v1h-1zM751 688h1v1h-1zM331 739h1v1h-1zM1171 636h1v1h-1zM359 429h1v1h-1zM597 895h1v1h-1zM387 905h1v1h-1zM205 636h1v1h-1zM653 646h1v1h-1zM625 584h1v1h-1zM387 941h1v1h-1zM387 532h1v1h-1zM961 884h1v1h-1zM793 662h1v1h-1zM569 688h1v1h-1zM233 739h1v1h-1zM177 429h1v1h-1zM961 511h1v1h-1zM1059 817h1v1h-1zM107 599h1v1h-1zM961 776h1v1h-1zM989 429h1v1h-1zM9 558h1v1h-1zM107 864h1v1h-1zM527 403h1v1h-1zM597 584h1v1h-1zM107 491h1v1h-1zM653 744h1v1h-1zM1017 532h1v1h-1zM1101 791h1v1h-1zM443 791h1v1h-1zM863 739h1v1h-1zM541 688h1v1h-1zM625 947h1v1h-1zM807 429h1v1h-1zM471 480h1v1h-1zM1045 895h1v1h-1zM387 895h1v1h-1zM653 636h1v1h-1zM1157 584h1v1h-1zM415 584h1v1h-1zM499 843h1v1h-1zM1059 506h1v1h-1zM387 522h1v1h-1zM961 874h1v1h-1zM261 791h1v1h-1zM961 465h1v1h-1zM583 662h1v1h-1zM709 429h1v1h-1zM961 501h1v1h-1zM289 480h1v1h-1zM107 589h1v1h-1zM457 558h1v1h-1zM1101 480h1v1h-1zM1017 895h1v1h-1zM1045 584h1v1h-1zM1129 843h1v1h-1zM65 713h1v1h-1zM653 734h1v1h-1zM471 843h1v1h-1zM891 791h1v1h-1zM1157 947h1v1h-1zM387 620h1v1h-1zM499 532h1v1h-1zM681 429h1v1h-1zM415 947h1v1h-1zM345 739h1v1h-1zM23 688h1v1h-1zM961 599h1v1h-1zM961 864h1v1h-1zM289 843h1v1h-1zM639 584h1v1h-1zM107 952h1v1h-1zM933 765h1v1h-1zM51 791h1v1h-1zM401 532h1v1h-1zM457 921h1v1h-1zM107 579h1v1h-1zM247 739h1v1h-1zM191 429h1v1h-1zM1129 532h1v1h-1zM975 739h1v1h-1zM1157 636h1v1h-1zM499 895h1v1h-1zM653 724h1v1h-1zM863 454h1v1h-1zM387 610h1v1h-1zM1031 532h1v1h-1zM1115 791h1v1h-1zM877 739h1v1h-1zM555 688h1v1h-1zM639 947h1v1h-1zM821 429h1v1h-1zM961 589h1v1h-1zM135 739h1v1h-1zM485 480h1v1h-1zM1059 895h1v1h-1zM163 429h1v1h-1zM107 677h1v1h-1zM401 895h1v1h-1zM261 506h1v1h-1zM667 636h1v1h-1zM429 584h1v1h-1zM849 532h1v1h-1zM275 791h1v1h-1zM373 688h1v1h-1zM653 822h1v1h-1zM303 480h1v1h-1zM219 895h1v1h-1zM863 817h1v1h-1zM387 708h1v1h-1zM653 449h1v1h-1zM1115 480h1v1h-1zM1031 895h1v1h-1zM317 765h1v1h-1zM1059 584h1v1h-1zM1143 843h1v1h-1zM961 952h1v1h-1zM485 843h1v1h-1zM261 869h1v1h-1zM905 791h1v1h-1zM513 532h1v1h-1zM1003 688h1v1h-1zM1087 947h1v1h-1zM961 579h1v1h-1zM429 947h1v1h-1zM933 480h1v1h-1zM107 667h1v1h-1zM611 429h1v1h-1zM275 480h1v1h-1zM359 739h1v1h-1zM849 895h1v1h-1zM37 688h1v1h-1zM457 636h1v1h-1zM219 584h1v1h-1zM303 843h1v1h-1zM65 791h1v1h-1zM1129 921h1v1h-1zM653 812h1v1h-1zM331 532h1v1h-1zM835 480h1v1h-1zM653 403h1v1h-1zM93 480h1v1h-1zM177 739h1v1h-1zM387 698h1v1h-1zM205 429h1v1h-1zM1143 532h1v1h-1zM653 439h1v1h-1zM1059 947h1v1h-1zM261 558h1v1h-1zM989 739h1v1h-1zM961 677h1v1h-1zM1087 636h1v1h-1zM107 765h1v1h-1zM513 895h1v1h-1zM527 713h1v1h-1zM933 843h1v1h-1zM107 392h1v1h-1zM695 791h1v1h-1zM653 910h1v1h-1zM807 739h1v1h-1zM149 739h1v1h-1zM1129 610h1v1h-1zM387 796h1v1h-1zM331 895h1v1h-1zM835 843h1v1h-1zM653 537h1v1h-1zM93 843h1v1h-1zM443 584h1v1h-1zM863 532h1v1h-1zM387 423h1v1h-1zM387 688h1v1h-1zM191 713h1v1h-1zM317 480h1v1h-1zM961 631h1v1h-1zM233 895h1v1h-1zM961 667h1v1h-1zM107 755h1v1h-1zM1073 584h1v1h-1zM835 532h1v1h-1zM919 791h1v1h-1zM653 900h1v1h-1zM177 791h1v1h-1zM1017 688h1v1h-1zM1101 947h1v1h-1zM681 739h1v1h-1zM443 947h1v1h-1zM653 491h1v1h-1zM947 480h1v1h-1zM625 429h1v1h-1zM863 895h1v1h-1zM387 786h1v1h-1zM65 506h1v1h-1zM653 527h1v1h-1zM471 636h1v1h-1zM891 584h1v1h-1zM233 584h1v1h-1zM317 843h1v1h-1zM387 413h1v1h-1zM961 765h1v1h-1zM107 853h1v1h-1zM737 791h1v1h-1zM79 791h1v1h-1zM1059 662h1v1h-1zM723 713h1v1h-1zM345 532h1v1h-1zM989 454h1v1h-1zM261 947h1v1h-1zM961 392h1v1h-1zM107 480h1v1h-1zM289 636h1v1h-1zM1073 947h1v1h-1zM933 558h1v1h-1zM51 584h1v1h-1zM1101 636h1v1h-1zM121 765h1v1h-1zM653 625h1v1h-1zM947 843h1v1h-1zM65 869h1v1h-1zM709 791h1v1h-1zM653 890h1v1h-1zM387 511h1v1h-1zM975 532h1v1h-1zM1157 429h1v1h-1zM891 947h1v1h-1zM387 776h1v1h-1zM737 480h1v1h-1zM821 739h1v1h-1zM499 688h1v1h-1zM163 739h1v1h-1zM261 636h1v1h-1zM345 895h1v1h-1zM989 817h1v1h-1zM961 755h1v1h-1zM765 843h1v1h-1zM107 843h1v1h-1zM527 791h1v1h-1zM877 532h1v1h-1zM933 921h1v1h-1zM135 532h1v1h-1zM51 947h1v1h-1zM401 688h1v1h-1zM107 470h1v1h-1zM247 895h1v1h-1zM1129 688h1v1h-1zM387 874h1v1h-1zM975 895h1v1h-1zM653 615h1v1h-1zM737 843h1v1h-1zM387 910h1v1h-1zM863 610h1v1h-1zM387 501h1v1h-1zM961 853h1v1h-1zM765 532h1v1h-1zM191 791h1v1h-1zM1031 688h1v1h-1zM611 739h1v1h-1zM961 480h1v1h-1zM289 688h1v1h-1zM639 429h1v1h-1zM877 895h1v1h-1zM107 568h1v1h-1zM135 895h1v1h-1zM485 636h1v1h-1zM107 833h1v1h-1zM905 584h1v1h-1zM247 584h1v1h-1zM107 460h1v1h-1zM359 532h1v1h-1zM849 688h1v1h-1zM653 713h1v1h-1zM275 947h1v1h-1zM457 429h1v1h-1zM121 480h1v1h-1zM387 599h1v1h-1zM387 864h1v1h-1zM65 584h1v1h-1zM653 605h1v1h-1zM793 765h1v1h-1zM1115 636h1v1h-1zM317 921h1v1h-1zM387 491h1v1h-1zM961 843h1v1h-1zM107 931h1v1h-1zM961 434h1v1h-1zM723 791h1v1h-1zM989 532h1v1h-1zM905 947h1v1h-1zM961 470h1v1h-1zM1087 429h1v1h-1zM107 558h1v1h-1zM751 480h1v1h-1zM513 688h1v1h-1zM527 506h1v1h-1zM933 636h1v1h-1zM275 636h1v1h-1zM359 895h1v1h-1zM695 584h1v1h-1zM779 843h1v1h-1zM121 843h1v1h-1zM541 791h1v1h-1zM653 703h1v1h-1zM863 662h1v1h-1zM149 532h1v1h-1zM1129 403h1v1h-1zM793 454h1v1h-1zM65 947h1v1h-1zM569 480h1v1h-1zM331 688h1v1h-1zM387 589h1v1h-1zM961 941h1v1h-1zM317 610h1v1h-1zM93 636h1v1h-1zM1143 688h1v1h-1zM961 568h1v1h-1zM583 765h1v1h-1zM107 656h1v1h-1zM989 895h1v1h-1zM961 833h1v1h-1zM191 506h1v1h-1zM107 921h1v1h-1zM751 843h1v1h-1zM527 869h1v1h-1zM1171 791h1v1h-1zM779 532h1v1h-1zM107 548h1v1h-1zM205 791h1v1h-1zM695 947h1v1h-1zM653 801h1v1h-1zM625 739h1v1h-1zM303 688h1v1h-1zM807 895h1v1h-1zM149 895h1v1h-1zM569 843h1v1h-1zM919 584h1v1h-1zM387 952h1v1h-1zM653 693h1v1h-1zM177 584h1v1h-1zM681 532h1v1h-1zM23 791h1v1h-1zM387 579h1v1h-1zM961 931h1v1h-1zM471 429h1v1h-1zM961 522h1v1h-1zM191 869h1v1h-1zM961 558h1v1h-1zM107 646h1v1h-1zM79 584h1v1h-1zM723 506h1v1h-1zM779 895h1v1h-1zM807 584h1v1h-1zM653 791h1v1h-1zM1157 739h1v1h-1zM835 688h1v1h-1zM919 947h1v1h-1zM1101 429h1v1h-1zM121 558h1v1h-1zM415 739h1v1h-1zM443 429h1v1h-1zM177 947h1v1h-1zM387 677h1v1h-1zM681 895h1v1h-1zM653 418h1v1h-1zM947 636h1v1h-1zM65 662h1v1h-1zM709 584h1v1h-1zM961 656h1v1h-1zM107 744h1v1h-1zM555 791h1v1h-1zM961 921h1v1h-1zM163 532h1v1h-1zM79 947h1v1h-1zM723 869h1v1h-1zM583 480h1v1h-1zM261 429h1v1h-1zM345 688h1v1h-1zM989 610h1v1h-1zM107 636h1v1h-1zM527 584h1v1h-1zM121 921h1v1h-1zM653 781h1v1h-1zM793 532h1v1h-1zM709 947h1v1h-1zM387 667h1v1h-1zM891 429h1v1h-1zM975 688h1v1h-1zM639 739h1v1h-1zM317 688h1v1h-1zM737 636h1v1h-1zM821 895h1v1h-1zM163 895h1v1h-1zM961 646h1v1h-1zM583 843h1v1h-1zM107 734h1v1h-1zM1003 791h1v1h-1zM191 584h1v1h-1zM611 532h1v1h-1zM933 403h1v1h-1zM37 791h1v1h-1zM527 947h1v1h-1zM373 480h1v1h-1zM457 739h1v1h-1zM51 429h1v1h-1zM135 688h1v1h-1zM485 429h1v1h-1zM653 879h1v1h-1zM387 765h1v1h-1zM793 895h1v1h-1zM653 506h1v1h-1zM387 801h1v1h-1zM821 584h1v1h-1zM387 392h1v1h-1zM961 744h1v1h-1zM667 791h1v1h-1zM1003 480h1v1h-1zM1087 739h1v1h-1zM765 688h1v1h-1zM1115 429h1v1h-1zM429 739h1v1h-1zM191 947h1v1h-1zM527 636h1v1h-1zM611 895h1v1h-1zM961 636h1v1h-1zM107 724h1v1h-1zM373 843h1v1h-1zM723 584h1v1h-1zM1129 713h1v1h-1zM597 480h1v1h-1zM275 429h1v1h-1zM653 869h1v1h-1zM653 460h1v1h-1zM121 636h1v1h-1zM387 755h1v1h-1zM653 496h1v1h-1zM961 734h1v1h-1zM107 822h1v1h-1zM317 403h1v1h-1zM457 791h1v1h-1zM107 858h1v1h-1zM723 947h1v1h-1zM583 558h1v1h-1zM107 449h1v1h-1zM905 429h1v1h-1zM989 688h1v1h-1zM9 817h1v1h-1zM751 636h1v1h-1zM1171 584h1v1h-1zM597 843h1v1h-1zM387 853h1v1h-1zM1017 791h1v1h-1zM205 584h1v1h-1zM653 594h1v1h-1zM625 532h1v1h-1zM541 947h1v1h-1zM387 480h1v1h-1zM65 429h1v1h-1zM149 688h1v1h-1zM793 610h1v1h-1zM569 636h1v1h-1zM1059 765h1v1h-1zM23 584h1v1h-1zM961 724h1v1h-1zM9 506h1v1h-1zM583 921h1v1h-1zM107 812h1v1h-1zM107 403h1v1h-1zM191 662h1v1h-1zM107 439h1v1h-1zM1171 947h1v1h-1zM1017 480h1v1h-1zM1101 739h1v1h-1zM779 688h1v1h-1zM443 739h1v1h-1zM205 947h1v1h-1zM541 636h1v1h-1zM625 895h1v1h-1zM1045 843h1v1h-1zM387 843h1v1h-1zM653 584h1v1h-1zM1157 532h1v1h-1zM415 532h1v1h-1zM499 791h1v1h-1zM1059 454h1v1h-1zM387 470h1v1h-1zM681 688h1v1h-1zM961 822h1v1h-1zM261 739h1v1h-1zM961 413h1v1h-1zM23 947h1v1h-1zM961 449h1v1h-1zM107 537h1v1h-1zM457 506h1v1h-1zM723 662h1v1h-1zM1017 843h1v1h-1zM1045 532h1v1h-1zM1129 791h1v1h-1zM653 682h1v1h-1zM471 791h1v1h-1zM891 739h1v1h-1zM919 429h1v1h-1zM653 947h1v1h-1zM1157 895h1v1h-1zM387 568h1v1h-1zM499 480h1v1h-1zM415 895h1v1h-1zM387 833h1v1h-1zM23 636h1v1h-1zM653 574h1v1h-1zM387 460h1v1h-1zM961 812h1v1h-1zM289 791h1v1h-1zM639 532h1v1h-1zM107 900h1v1h-1zM933 713h1v1h-1zM961 403h1v1h-1zM555 947h1v1h-1zM737 429h1v1h-1zM51 739h1v1h-1zM401 480h1v1h-1zM79 429h1v1h-1zM163 688h1v1h-1zM457 869h1v1h-1zM107 527h1v1h-1zM1129 480h1v1h-1zM387 931h1v1h-1zM121 403h1v1h-1zM653 672h1v1h-1zM387 558h1v1h-1zM961 910h1v1h-1zM1031 480h1v1h-1z" fill="#000" shape-rendering="crispEdges"/>
<path d="M1185 952h2v1h-2zM9 952h2v1h-2zM1182 947h5v1h-5zM9 947h5v1h-5zM1185 941h2v1h-2zM9 941h2v1h-2zM1185 936h2v1h-2zM9 936h2v1h-2zM1185 931h2v1h-2zM9 931h2v1h-2zM1185 926h2v1h-2zM9 926h2v1h-2zM1182 921h5v1h-5zM9 921h5v1h-5zM1185 915h2v1h-2zM9 915h2v1h-2zM1185 910h2v1h-2zM9 910h2v1h-2zM1185 905h2v1h-2zM9 905h2v1h-2zM1185 900h2v1h-2zM9 900h2v1h-2zM1182 895h5v1h-5zM9 895h5v1h-5zM1185 890h2v1h-2zM9 890h2v1h-2zM1185 884h2v1h-2zM9 884h2v1h-2zM1185 879h2v1h-2zM9 879h2v1h-2zM1185 874h2v1h-2zM9 874h2v1h-2zM1182 869h5v1h-5zM9 869h5v1h-5zM1185 864h2v1h-2zM9 864h2v1h-2zM1185 858h2v1h-2zM9 858h2v1h-2zM1185 853h2v1h-2zM9 853h2v1h-2zM1185 848h2v1h-2zM9 848h2v1h-2zM1182 843h5v1h-5zM9 843h5v1h-5zM1185 838h2v1h-2zM9 838h2v1h-2zM1185 833h2v1h-2zM9 833h2v1h-2zM1185 827h2v1h-2zM9 827h2v1h-2zM1185 822h2v1h-2zM9 822h2v1h-2zM1182 817h5v1h-5zM9 817h5v1h-5zM1185 812h2v1h-2zM9 812h2v1h-2zM1185 807h2v1h-2zM9 807h2v1h-2zM1185 801h2v1h-2zM9 801h2v1h-2zM1185 796h2v1h-2zM9 796h2v1h-2zM1182 791h5v1h-5zM9 791h5v1h-5zM1185 786h2v1h-2zM9 786h2v1h-2zM1185 781h2v1h-2zM9 781h2v1h-2zM1185 776h2v1h-2zM9 776h2v1h-2zM1185 770h2v1h-2zM9 770h2v1h-2zM1182 765h5v1h-5zM9 765h5v1h-5zM1185 760h2v1h-2zM9 760h2v1h-2zM1185 755h2v1h-2zM9 755h2v1h-2zM1185 750h2v1h-2zM9 750h2v1h-2zM1185 744h2v1h-2zM9 744h2v1h-2zM1182 739h5v1h-5zM9 739h5v1h-5zM1185 734h2v1h-2zM9 734h2v1h-2zM1185 729h2v1h-2zM9 729h2v1h-2zM1185 724h2v1h-2zM9 724h2v1h-2zM1185 719h2v1h-2zM9 719h2v1h-2zM1182 713h5v1h-5zM9 713h5v1h-5zM1185 708h2v1h-2zM9 708h2v1h-2zM1185 703h2v1h-2zM9 703h2v1h-2zM1185 698h2v1h-2zM9 698h2v1h-2zM1185 693h2v1h-2zM9 693h2v1h-2zM1182 688h5v1h-5zM9 688h5v1h-5zM1185 682h2v1h-2zM9 682h2v1h-2zM1185 677h2v1h-2zM9 677h2v1h-2zM1185 672h2v1h-2zM9 672h2v1h-2zM1185 667h2v1h-2zM9 667h2v1h-2zM1182 662h5v1h-5zM9 662h5v1h-5zM1185 656h2v1h-2zM9 656h2v1h-2zM1185 651h2v1h-2zM9 651h2v1h-2zM1185 646h2v1h-2zM9 646h2v1h-2zM1185 641h2v1h-2zM9 641h2v1h-2zM1182 636h5v1h-5zM9 636h5v1h-5zM1185 631h2v1h-2zM9 631h2v1h-2zM1185 625h2v1h-2zM9 625h2v1h-2zM1185 620h2v1h-2zM9 620h2v1h-2zM1185 615h2v1h-2zM9 615h2v1h-2zM1182 610h5v1h-5zM9 610h5v1h-5zM1185 605h2v1h-2zM9 605h2v1h-2zM1185 599h2v1h-2zM9 599h2v1h-2zM1185 594h2v1h-2zM9 594h2v1h-2zM1185 589h2v1h-2zM9 589h2v1h-2zM1182 584h5v1h-5zM9 584h5v1h-5zM1185 579h2v1h-2zM9 579h2v1h-2zM1185 574h2v1h-2zM9 574h2v1h-2zM1185 568h2v1h-2zM9 568h2v1h-2zM1185 563h2v1h-2zM9 563h2v1h-2zM1182 558h5v1h-5zM9 558h5v1h-5zM1185 553h2v1h-2zM9 553h2v1h-2zM1185 548h2v1h-2zM9 548h2v1h-2zM1185 542h2v1h-2zM9 542h2v1h-2zM1185 537h2v1h-2zM9 537h2v1h-2zM1182 532h5v1h-5zM9 532h5v1h-5zM1185 527h2v1h-2zM9 527h2v1h-2zM1185 522h2v1h-2zM9 522h2v1h-2zM1185 517h2v1h-2zM9 517h2v1h-2zM1185 511h2v1h-2zM9 511h2v1h-2zM1182 506h5v1h-5zM9 506h5v1h-5zM1185 501h2v1h-2zM9 501h2v1h-2zM1185 496h2v1h-2zM9 496h2v1h-2zM1185 491h2v1h-2zM9 491h2v1h-2zM1185 485h2v1h-2zM9 485h2v1h-2zM1182 480h5v1h-5zM9 480h5v1h-5zM1185 475h2v1h-2zM9 475h2v1h-2zM1185 470h2v1h-2zM9 470h2v1h-2zM1185 465h2v1h-2zM9 465h2v1h-2zM1185 460h2v1h-2zM9 460h2v1h-2zM1182 454h5v1h-5zM9 454h5v1h-5zM1185 449h2v1h-2zM9 449h2v1h-2zM1185 444h2v1h-2zM9 444h2v1h-2zM1185 439h2v1h-2zM9 439h2v1h-2zM1185 434h2v1h-2zM9 434h2v1h-2zM1182 429h5v1h-5zM9 429h5v1h-5zM1185 423h2v1h-2zM9 423h2v1h-2zM1185 418h2v1h-2zM9 418h2v1h-2zM1185 413h2v1h-2zM9 413h2v1h-2zM1185 408h2v1h-2zM9 408h2v1h-2zM1182 403h5v1h-5zM9 403h5v1h-5zM1185 397h2v1h-2zM9 397h2v1h-2zM1185 392h2v1h-2zM9 392h2v1h-2z" fill="#000" shape-rendering="crispEdges"/>
<svg x="9" y="389" width="1178" height="567" viewBox="9 389 1178 567" overflow="hidden">
<polyline points="9.5,637.6 23.5,633.1 37.5,629.7 51.5,620.9 65.5,630.7 79.5,629.3 93.5,639.9 107.5,646.4 121.5,625.8 135.5,634.0 149.5,631.7 163.5,628.7 177.5,636.0 191.5,634.6 205.5,636.6 219.5,648.8 233.5,639.9 247.5,635.0 261.5,624.4 275.5,623.4 289.5,618.3 303.5,613.4 317.5,614.6 331.5,607.5 345.5,609.7 359.5,598.7 373.5,608.7 387.5,599.9 401.5,612.6 415.5,617.9 429.5,614.6 443.5,598.7 457.5,601.8 471.5,586.9 485.5,593.0 499.5,582.5 513.5,577.6 527.5,595.7 541.5,586.8 555.5,583.5 569.5,579.6 583.5,557.8 597.5,549.1 611.5,537.2 625.5,574.1 639.5,532.4 653.5,490.6 667.5,492.0 681.5,478.8 695.5,473.9 709.5,480.8 723.5,476.2 737.5,495.6 751.5,472.0 765.5,464.8 779.5,503.1 793.5,471.6 807.5,500.9 821.5,475.6 835.5,488.7 849.5,473.6 863.5,477.0 877.5,471.6 891.5,481.9 905.5,476.0 919.5,481.5 933.5,505.0 947.5,492.7 961.5,481.9 975.5,495.6 989.5,479.9 1003.5,469.8 1017.5,473.9 1031.5,471.6 1045.5,460.7 1059.5,464.8 1073.5,452.8 1087.5,446.0 1101.5,439.0 1115.5,414.5 1129.5,423.9 1143.5,411.7 1157.5,429.0" fill="none" stroke="#0c7016" stroke-width="2.25" stroke-linejoin="miter" stroke-miterlimit="3"/>
<polyline points="9.5,755.0 23.5,756.0 37.5,753.6 51.5,749.7 65.5,757.0 79.5,756.0 93.5,762.8 107.5,769.7 121.5,758.5 135.5,762.8 149.5,761.9 163.5,757.5 177.5,764.8 191.5,760.5 205.5,761.9 219.5,768.1 233.5,759.9 247.5,755.3 261.5,749.3 275.5,750.7 289.5,745.8 303.5,743.4 317.5,744.8 331.5,740.5 345.5,743.4 359.5,735.0 373.5,740.9 387.5,736.0 401.5,742.8 415.5,746.8 429.5,746.8 443.5,740.9 457.5,742.8 471.5,736.0 485.5,737.9 499.5,733.9 513.5,729.9 527.5,736.8 541.5,732.9 555.5,730.9 569.5,728.0 583.5,719.7 597.5,716.8 611.5,712.8 625.5,731.5 639.5,711.2 653.5,690.8 667.5,690.8 681.5,685.0 695.5,681.8 709.5,685.0 723.5,680.8 737.5,690.7 751.5,676.9 765.5,672.0 779.5,689.9 793.5,674.0 807.5,688.9 821.5,675.9 835.5,682.8 849.5,674.0 863.5,675.9 877.5,674.0 891.5,677.9 905.5,674.9 919.5,676.9 933.5,690.8 947.5,692.8 961.5,685.7 975.5,692.3 989.5,683.4 1003.5,677.8 1017.5,677.8 1031.5,676.7 1045.5,674.0 1059.5,674.0 1073.5,662.1 1087.5,657.4 1101.5,651.8 1115.5,639.0 1129.5,642.0 1143.5,630.1 1157.5,644.2" fill="none" stroke="#dc0adc" stroke-width="2.2" stroke-linejoin="miter" stroke-miterlimit="3"/>
<polyline points="9.5,890.0 23.5,891.0 37.5,889.0 51.5,890.0 65.5,891.0 79.5,890.0 93.5,891.0 107.5,890.0 121.5,891.0 135.5,891.5 149.5,891.7 163.5,887.5 177.5,892.6 191.5,887.5 205.5,886.5 219.5,886.5 233.5,880.8 247.5,876.7 261.5,875.7 275.5,876.7 289.5,873.8 303.5,873.8 317.5,874.8 331.5,874.8 345.5,878.7 359.5,871.4 373.5,872.6 387.5,871.4 401.5,872.8 415.5,876.3 429.5,879.9 443.5,882.2 457.5,883.6 471.5,883.6 485.5,883.6 499.5,886.2 513.5,880.7 527.5,876.7 541.5,878.7 555.5,878.7 569.5,876.7 583.5,882.6 597.5,884.8 611.5,888.5 625.5,889.7 639.5,890.7 653.5,890.7 667.5,889.5 681.5,890.7 695.5,889.7 709.5,889.7 723.5,885.8 737.5,885.8 751.5,881.6 765.5,877.7 779.5,877.7 793.5,875.7 807.5,875.7 821.5,875.7 835.5,876.7 849.5,874.8 863.5,873.9 877.5,875.8 891.5,873.7 905.5,873.9 919.5,870.7 933.5,876.6 947.5,892.5 961.5,891.0 975.5,889.6 989.5,888.0 1003.5,886.6 1017.5,882.5 1031.5,881.7 1045.5,887.6 1059.5,882.1 1073.5,870.8 1087.5,869.7 1101.5,864.8 1115.5,862.8 1129.5,858.7 1143.5,849.5 1157.5,859.2" fill="none" stroke="#ea7c48" stroke-width="2.2" stroke-linejoin="miter" stroke-miterlimit="3"/>
<path d="M9.5 794.0 V800.0 M3.5 799.0 H9.5 M9.5 794.5 H15.5 M23.5 792.0 V796.0 M17.5 795.0 H23.5 M23.5 795.0 H29.5 M37.5 789.5 V795.5 M31.5 794.5 H37.5 M37.5 790.8 H43.5 M51.5 788.5 V792.5 M45.5 791.5 H51.5 M51.5 791.5 H57.5 M65.5 790.5 V800.5 M59.5 791.4 H65.5 M65.5 799.4 H71.5 M79.5 799.0 V802.5 M73.5 800.0 H79.5 M79.5 801.5 H85.5 M93.5 799.0 V803.7 M87.5 801.5 H93.5 M93.5 801.5 H99.5 M107.5 800.6 V805.7 M101.5 801.6 H107.5 M107.5 804.4 H113.5 M121.5 795.7 V806.0 M115.5 805.0 H121.5 M121.5 797.5 H127.5 M135.5 794.2 V799.0 M129.5 798.0 H135.5 M135.5 798.0 H141.5 M149.5 795.0 V799.0 M143.5 798.3 H149.5 M149.5 796.0 H155.5 M163.5 793.0 V797.0 M157.5 796.0 H163.5 M163.5 796.0 H169.5 M177.5 794.0 V799.0 M171.5 797.0 H177.5 M177.5 797.0 H183.5 M191.5 793.0 V822.5 M185.5 796.5 H191.5 M191.5 821.0 H197.5 M205.5 819.5 V825.5 M199.5 821.0 H205.5 M205.5 822.8 H211.5 M219.5 817.3 V823.3 M213.5 821.6 H219.5 M219.5 819.6 H225.5 M233.5 817.3 V823.6 M227.5 820.0 H233.5 M233.5 820.0 H239.5 M247.5 815.8 V823.6 M241.5 822.0 H247.5 M247.5 817.4 H253.5 M261.5 817.0 V820.5 M255.5 819.5 H261.5 M261.5 819.5 H267.5 M275.5 815.5 V821.5 M269.5 820.5 H275.5 M275.5 820.5 H281.5 M289.5 818.0 V821.5 M283.5 820.4 H289.5 M289.5 818.9 H295.5 M303.5 811.0 V820.6 M297.5 820.5 H303.5 M303.5 812.4 H309.5 M317.5 809.5 V817.0 M311.5 812.5 H317.5 M317.5 812.5 H323.5 M331.5 812.4 V817.5 M325.5 814.6 H331.5 M331.5 816.4 H337.5 M345.5 809.4 V816.9 M339.5 815.0 H345.5 M345.5 812.7 H351.5 M359.5 808.0 V814.6 M353.5 811.6 H359.5 M359.5 811.6 H365.5 M373.5 810.5 V817.6 M367.5 811.6 H373.5 M373.5 814.6 H379.5 M387.5 812.4 V818.4 M381.5 816.4 H387.5 M387.5 816.4 H393.5 M401.5 813.0 V818.0 M395.5 817.0 H401.5 M401.5 814.6 H407.5 M415.5 809.4 V817.6 M409.5 813.4 H415.5 M415.5 813.4 H421.5 M429.5 806.4 V815.4 M423.5 814.6 H429.5 M429.5 808.9 H435.5 M443.5 806.4 V813.0 M437.5 808.9 H443.5 M443.5 812.4 H449.5 M457.5 812.0 V817.6 M451.5 813.4 H457.5 M457.5 813.4 H463.5 M471.5 810.9 V814.9 M465.5 813.7 H471.5 M471.5 813.7 H477.5 M485.5 812.5 V817.0 M479.5 813.7 H485.5 M485.5 813.7 H491.5 M499.5 810.4 V815.6 M493.5 814.5 H499.5 M499.5 811.8 H505.5 M513.5 808.9 V812.4 M507.5 811.0 H513.5 M513.5 811.0 H519.5 M527.5 810.4 V817.1 M521.5 811.8 H527.5 M527.5 816.4 H533.5 M541.5 815.0 V817.5 M535.5 816.2 H541.5 M541.5 816.2 H547.5 M555.5 814.5 V818.6 M549.5 816.0 H555.5 M555.5 816.0 H561.5 M569.5 812.6 V819.3 M563.5 816.2 H569.5 M569.5 816.2 H575.5 M583.5 810.4 V817.1 M577.5 815.0 H583.5 M583.5 815.0 H589.5 M597.5 812.6 V817.0 M591.5 815.7 H597.5 M597.5 813.7 H603.5 M611.5 811.0 V816.0 M605.5 814.7 H611.5 M611.5 812.0 H617.5 M625.5 808.1 V814.9 M619.5 813.4 H625.5 M625.5 809.6 H631.5 M639.5 802.2 V810.7 M633.5 809.6 H639.5 M639.5 803.7 H645.5 M653.5 801.0 V810.4 M647.5 802.2 H653.5 M653.5 808.5 H659.5 M667.5 803.3 V810.4 M661.5 808.7 H667.5 M667.5 808.7 H673.5 M681.5 807.5 V814.5 M675.5 808.7 H681.5 M681.5 810.2 H687.5 M695.5 799.1 V809.3 M689.5 807.9 H695.5 M695.5 799.9 H701.5 M709.5 791.5 V802.5 M703.5 801.3 H709.5 M709.5 794.4 H715.5 M723.5 782.0 V805.5 M717.5 794.6 H723.5 M723.5 804.4 H729.5 M737.5 804.0 V810.7 M731.5 807.0 H737.5 M737.5 807.0 H743.5 M751.5 795.8 V804.0 M745.5 801.5 H751.5 M751.5 797.5 H757.5 M765.5 789.0 V794.6 M759.5 793.1 H765.5 M765.5 793.1 H771.5 M779.5 788.4 V796.6 M773.5 795.3 H779.5 M779.5 789.9 H785.5 M793.5 775.0 V789.0 M787.5 776.4 H793.5 M793.5 787.6 H799.5 M807.5 782.4 V792.5 M801.5 787.6 H807.5 M807.5 787.6 H813.5 M821.5 776.7 V791.3 M815.5 787.6 H821.5 M821.5 778.1 H827.5 M835.5 770.4 V779.7 M829.5 778.3 H835.5 M835.5 771.7 H841.5 M849.5 771.0 V777.0 M843.5 772.4 H849.5 M849.5 775.7 H855.5 M863.5 767.0 V785.7 M857.5 775.0 H863.5 M863.5 781.7 H869.5 M877.5 775.0 V783.0 M871.5 781.7 H877.5 M877.5 778.4 H883.5 M891.5 772.4 V783.7 M885.5 780.4 H891.5 M891.5 774.4 H897.5 M905.5 771.0 V779.7 M899.5 774.4 H905.5 M905.5 774.4 H911.5 M919.5 770.0 V780.4 M913.5 775.0 H919.5 M919.5 779.4 H925.5 M933.5 775.0 V786.4 M927.5 778.0 H933.5 M933.5 785.0 H939.5 M947.5 779.0 V791.0 M941.5 783.0 H947.5 M947.5 783.0 H953.5 M961.5 781.0 V791.0 M955.5 785.7 H961.5 M961.5 789.3 H973.0" stroke="#000" stroke-width="3" fill="none" stroke-linecap="butt"/>
</svg>
<text x="1124.2" y="421.3" font-size="12.5" fill="#2a8a2a" letter-spacing="1.3">Four</text>
<text x="1101" y="636" font-size="12" fill="#e030e0" letter-spacing="2">Average</text>
<text x="1133.5" y="851" font-size="12.5" fill="#f0a080" letter-spacing="0.5">Ten</text>
<text x="1213.1 1221.5 1229.7 1238.2 1245.4 1255.3" y="432.0" font-size="13" fill="#111">800-0'</text>
<text x="1213.1 1221.5 1229.7 1238.2 1245.4 1255.3" y="483.0" font-size="13" fill="#111">750-0'</text>
<text x="1213.1 1221.5 1229.7 1238.2 1245.4 1255.3" y="535.0" font-size="13" fill="#111">700-0'</text>
<text x="1213.1 1221.5 1229.7 1238.2 1245.4 1255.3" y="587.0" font-size="13" fill="#111">650-0'</text>
<text x="1213.1 1221.5 1229.7 1238.2 1245.4 1255.3" y="639.0" font-size="13" fill="#111">600-0'</text>
<text x="1213.1 1221.5 1229.7 1238.2 1245.4 1255.3" y="691.0" font-size="13" fill="#111">550-0'</text>
<text x="1213.1 1221.5 1229.7 1238.2 1245.4 1255.3" y="742.0" font-size="13" fill="#111">500-0'</text>
<text x="1213.1 1221.5 1229.7 1238.2 1245.4 1255.3" y="794.0" font-size="13" fill="#111">450-0'</text>
<text x="1213.1 1221.5 1229.7 1238.2 1245.4 1255.3" y="846.0" font-size="13" fill="#111">400-0'</text>
<text x="1213.1 1221.5 1229.7 1238.2 1245.4 1255.3" y="898.0" font-size="13" fill="#111">350-0'</text>
<text x="1213.1 1221.5 1229.7 1238.2 1245.4 1255.3" y="950.0" font-size="13" fill="#111">300-0'</text>
<rect x="1188.5" y="781.3" width="74.5" height="14.3" fill="#050505"/>
<text x="1213.1 1221.5 1229.7 1238.2 1245.4 1255.3" y="792.3" font-size="13" fill="#f2f2f2">452-4'</text>
<rect x="1188.5" y="839" width="74.5" height="14.6" fill="#f020f0"/>
<text x="1213.1 1221.5 1229.7 1238.2 1245.4 1255.3" y="850.0" font-size="13" fill="#fde8fd">396-5'</text>
<path d="M1244.5 965 L1251.5 958 L1251.5 962 L1261.5 962 L1261.5 968.5 L1251.5 968.5 L1251.5 972 Z" fill="#e80000"/>
<rect x="65" y="960" width="1" height="12.5" fill="#000"/>
<text x="67" y="971" font-size="13" fill="#111" letter-spacing="0.9">29</text>
<rect x="107" y="960" width="1" height="12.5" fill="#000"/>
<text x="109" y="971" font-size="13" fill="#111" letter-spacing="0.9">02</text>
<rect x="191" y="960" width="1" height="12.5" fill="#000"/>
<text x="193" y="971" font-size="13" fill="#111" letter-spacing="0.9">12</text>
<rect x="261" y="960" width="1" height="12.5" fill="#000"/>
<text x="263" y="971" font-size="13" fill="#111" letter-spacing="0.9">20</text>
<rect x="317" y="960" width="1" height="12.5" fill="#000"/>
<text x="319" y="971" font-size="13" fill="#111" letter-spacing="0.9">26</text>
<rect x="387" y="960" width="1" height="12.5" fill="#000"/>
<text x="389" y="971" font-size="13" fill="#111" letter-spacing="0.9">02</text>
<rect x="457" y="960" width="1" height="12.5" fill="#000"/>
<text x="459" y="971" font-size="13" fill="#111" letter-spacing="0.9">09</text>
<rect x="527" y="960" width="1" height="12.5" fill="#000"/>
<text x="529" y="971" font-size="13" fill="#111" letter-spacing="0.9">17</text>
<rect x="583" y="960" width="1" height="12.5" fill="#000"/>
<text x="585" y="971" font-size="13" fill="#111" letter-spacing="0.9">23</text>
<rect x="653" y="960" width="1" height="12.5" fill="#000"/>
<text x="655" y="971" font-size="13" fill="#111" letter-spacing="0.9">02</text>
<rect x="723" y="960" width="1" height="12.5" fill="#000"/>
<text x="725" y="971" font-size="13" fill="#111" letter-spacing="0.9">09</text>
<rect x="793" y="960" width="1" height="12.5" fill="#000"/>
<text x="795" y="971" font-size="13" fill="#111" letter-spacing="0.9">16</text>
<rect x="863" y="960" width="1" height="12.5" fill="#000"/>
<text x="865" y="971" font-size="13" fill="#111" letter-spacing="0.9">23</text>
<rect x="933" y="960" width="1" height="12.5" fill="#000"/>
<text x="935" y="971" font-size="13" fill="#111" letter-spacing="0.9">30</text>
<rect x="961" y="960" width="1" height="12.5" fill="#000"/>
<text x="963" y="971" font-size="13" fill="#111" letter-spacing="0.9">01</text>
<rect x="989" y="960" width="1" height="12.5" fill="#000"/>
<text x="991" y="971" font-size="13" fill="#111" letter-spacing="0.9">06</text>
<rect x="1059" y="960" width="1" height="12.5" fill="#000"/>
<text x="1061" y="971" font-size="13" fill="#111" letter-spacing="0.9">13</text>
<rect x="1129" y="960" width="1" height="12.5" fill="#000"/>
<text x="1131" y="971" font-size="13" fill="#111" letter-spacing="0.9">20</text>
<text x="13.5" y="971" font-size="13" fill="#111" letter-spacing="0.9">22</text>
<rect x="8.5" y="954.5" width="13" height="20" fill="#fff" stroke="#707070" stroke-width="1"/>
<rect x="9" y="955" width="1" height="13" fill="#000"/>
<rect x="389" y="943" width="24" height="12" fill="#fff"/>
<rect x="655" y="943" width="25" height="12" fill="#fff"/>
<rect x="963" y="943" width="25" height="12" fill="#fff"/>
<text x="389.2" y="953.5" font-size="12" fill="#111" letter-spacing="1.5">Feb</text>
<text x="654.3" y="953.5" font-size="12" fill="#111" letter-spacing="1.6">Mar</text>
<text x="963.2" y="953.5" font-size="12" fill="#111" letter-spacing="2">Apr</text>
<rect x="9" y="389" width="90" height="64" fill="#fff"/>
<text x="9.9 17.2 26.3 34.1 41.8 51.4 58.3" y="398.6" font-size="12" fill="#111">0=457-+</text>
<text x="9.9 17.2 26.3 34.1 41.8 51.4" y="411.6" font-size="12" fill="#111">H=460-</text>
<text x="9.9 17.2 26.3 34.1 41.8 51.4 58.3 67.8 73.8" y="424.6" font-size="12" fill="#111">L=451-3/4</text>
<text x="9.9 17.2 26.3 34.1 41.8 51.4 58.3" y="437.6" font-size="12" fill="#111">L=452-+</text>
<text x="9.9 17.2 35.8 42.3 51.4 58.3 67.8 73.8" y="450.6" font-size="12" fill="#111">Δ=-5-1/4</text>
<rect x="91.5" y="391.5" width="4" height="59" fill="#e01010" stroke="#101010" stroke-width="1"/>
<rect x="92" y="443.8" width="3" height="6.7" fill="#20d020"/>
<path d="M90.5 406.5 L94 409.6 L90.5 412.7 Z" fill="#f0e040" stroke="#303000" stroke-width="0.5"/>
<rect x="8.5" y="849.5" width="131" height="106.5" fill="#fff" stroke="#808080" stroke-width="1"/>
<text x="10.3 18.3 33.5 42.9 51.6 65.3 74.0" y="861.0" font-size="12" fill="#111">01Apr26</text>
<text x="10.3" y="873.9" font-size="12" fill="#111" letter-spacing="1.5">0=</text>
<text x="82.0 91.4 100.0 108.0 115.0" y="873.9" font-size="12" fill="#111">457-+</text>
<text x="10.3" y="886.9" font-size="12" fill="#111" letter-spacing="1.5">H=</text>
<text x="82.0 91.4 100.0 108.0" y="886.9" font-size="12" fill="#111">460-</text>
<text x="10.3" y="899.8" font-size="12" fill="#111" letter-spacing="1.5">L=</text>
<text x="82.0 91.4 100.0 108.0 115.0 125.4 130.4" y="899.8" font-size="12" fill="#111">451-3/4</text>
<text x="10.3" y="912.7" font-size="12" fill="#111" letter-spacing="1.5">C=</text>
<text x="82.0 91.4 100.0 108.0 115.0" y="912.7" font-size="12" fill="#111">452-+</text>
<text x="10.3" y="925.6" font-size="12" fill="#111" letter-spacing="1.5">Four=</text>
<text x="82.0 91.4 100.0 108.0 115.0 125.4 130.4" y="925.6" font-size="12" fill="#111">748-3/4</text>
<text x="10.3" y="938.6" font-size="12" fill="#111" letter-spacing="1.5">Ten=</text>
<text x="82.0 91.4 100.0 108.0" y="938.6" font-size="12" fill="#111">354-</text>
<text x="10.3" y="951.5" font-size="12" fill="#111" letter-spacing="1.5">Average=</text>
<text x="82.0 91.4 100.0 108.0 115.0 125.4 130.4" y="951.5" font-size="12" fill="#111">551-3/8</text>
</svg></body></html>
